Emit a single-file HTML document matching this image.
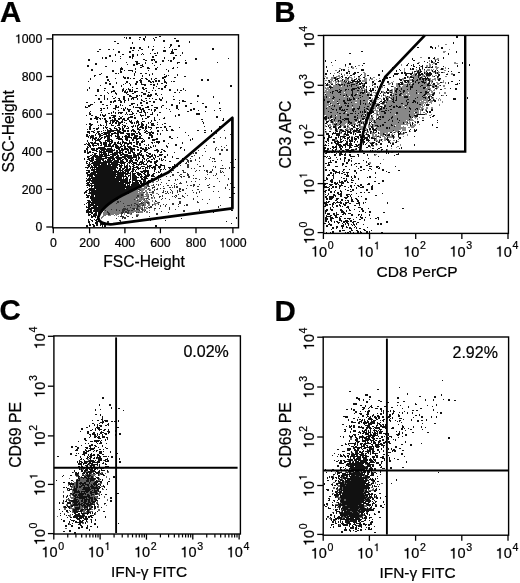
<!DOCTYPE html>
<html><head><meta charset="utf-8"><style>html,body{margin:0;padding:0;background:#fff;overflow:hidden}svg{display:block;filter:blur(0.35px)}text{stroke:#000;stroke-width:0.22px}</style></head>
<body><svg width="520" height="583" viewBox="0 0 520 583" font-family="'Liberation Sans',sans-serif" fill="#000" shape-rendering="auto">
<path d="M445 44.5h2M438 45.5h1M438 46.5h1M449 49.5h1M443 51.5h3M443 52.5h2M420 57.5h2M437 58.5h2M434 59.5h5M429 60.5h1M429 61.5h1M418 62.5h2m13 0h2m19 0h2M429 63.5h1m3 0h2m19 0h4M401 64.5h1m27 0h2m1 0h1M332 65.5h1m25 0h2m41 0h1m24 0h2m1 0h2M345 66.5h1m6 0h1m67 0h1m5 0h2m1 0h2m4 0h2M348 67.5h1m3 0h2m73 0h1m2 0h1m4 0h4m6 0h1M339 68.5h2m11 0h2m2 0h1m47 0h1m31 0h2m5 0h1m1 0h1M342 69.5h1m5 0h1m55 0h1m6 0h1m4 0h1m5 0h1m4 0h3m1 0h1m1 0h1m2 0h1m3 0h1m2 0h1M335 70.5h2m11 0h1m55 0h1m11 0h2m1 0h1m4 0h1m1 0h4m1 0h1m12 0h2M338 71.5h1m65 0h1m7 0h1m3 0h1m2 0h1m4 0h1m8 0h1m4 0h1M338 72.5h1m10 0h1m13 0h2m49 0h1m10 0h2m6 0h2m1 0h1m1 0h2m3 0h2M334 73.5h1m4 0h1m1 0h1m22 0h2m48 0h2m1 0h1m7 0h1m10 0h1m1 0h1m8 0h1m3 0h2M344 74.5h1m7 0h1m11 0h2m47 0h2m8 0h1m1 0h1m25 0h2M338 75.5h2m2 0h1m1 0h1m2 0h1m16 0h2m45 0h4m1 0h2m4 0h3m7 0h1m2 0h2M325 76.5h1m7 0h1m2 0h4m9 0h1m4 0h1m9 0h2m42 0h1m3 0h6m1 0h1m1 0h3m1 0h5m2 0h2m11 0h2M326 77.5h2m3 0h3m2 0h1m2 0h2m8 0h3m2 0h1m3 0h2m13 0h2m33 0h2m4 0h4m1 0h1m2 0h1m15 0h1M326 78.5h2m3 0h3m2 0h1m2 0h1m1 0h1m3 0h2m4 0h2m5 0h3m3 0h3m4 0h2m6 0h1m19 0h1m2 0h2m5 0h1m4 0h5m2 0h1m7 0h2m3 0h2m1 0h2M330 79.5h3m10 0h1m1 0h4m2 0h2m3 0h1m7 0h3m2 0h1m1 0h2m3 0h1m25 0h2m5 0h3m1 0h4m1 0h1m2 0h1m2 0h1m2 0h1m2 0h1m1 0h4m1 0h1m2 0h1M325 80.5h2m4 0h2m1 0h1m2 0h1m2 0h2m3 0h4m13 0h5m2 0h1m4 0h1m28 0h1m5 0h3m2 0h2m2 0h5m1 0h1m1 0h2m2 0h3m2 0h1m7 0h1M328 81.5h1m1 0h2m1 0h1m1 0h3m1 0h5m1 0h1m3 0h2m11 0h5m26 0h1m8 0h1m6 0h1m4 0h1m1 0h5m3 0h3m3 0h2m11 0h1M328 82.5h1m1 0h2m3 0h2m1 0h1m2 0h4m1 0h2m1 0h1m3 0h1m1 0h2m2 0h1m31 0h2m11 0h1m2 0h1m1 0h6m1 0h2m2 0h2m4 0h1m1 0h1m2 0h2m3 0h2m4 0h2m1 0h1M330 83.5h3m2 0h1m1 0h2m2 0h6m3 0h6m7 0h1m8 0h1m15 0h3m5 0h2m5 0h1m3 0h4m1 0h1m1 0h4m1 0h5m1 0h3m3 0h1m5 0h3m5 0h1M328 84.5h2m5 0h1m1 0h1m2 0h1m2 0h1m1 0h6m4 0h4m3 0h2m8 0h2m14 0h2m6 0h2m5 0h4m1 0h1m1 0h2m2 0h13m2 0h2m1 0h1m4 0h2M325 85.5h1m2 0h3m2 0h6m2 0h3m1 0h2m1 0h1m1 0h1m1 0h4m1 0h2m37 0h3m4 0h4m1 0h4m1 0h8m2 0h4m4 0h4m4 0h1m3 0h2M331 86.5h1m1 0h8m1 0h5m1 0h3m1 0h8m1 0h2m6 0h1m4 0h2m3 0h2m1 0h1m10 0h1m2 0h3m1 0h1m1 0h4m2 0h2m3 0h7m1 0h9m4 0h1m2 0h2m4 0h2M325 87.5h1m1 0h2m4 0h24m2 0h1m1 0h2m11 0h2m4 0h1m1 0h1m1 0h1m9 0h2m1 0h13m3 0h10m4 0h3m2 0h1m1 0h1m1 0h3M325 88.5h4m2 0h21m5 0h1m4 0h3m1 0h1m11 0h1m15 0h2m2 0h3m1 0h8m1 0h12m2 0h6m6 0h1m6 0h2M326 89.5h13m1 0h5m2 0h1m1 0h2m4 0h8m1 0h2m25 0h2m1 0h2m2 0h3m1 0h5m1 0h2m1 0h17m2 0h1m3 0h1m1 0h1M325 90.5h2m1 0h7m3 0h2m2 0h3m1 0h5m2 0h4m2 0h3m1 0h1m1 0h1m23 0h1m2 0h1m1 0h1m2 0h2m1 0h3m2 0h11m1 0h11m1 0h3m1 0h2M325 91.5h7m2 0h3m1 0h1m2 0h11m1 0h10m2 0h1m1 0h1m14 0h2m5 0h4m1 0h1m2 0h3m1 0h2m2 0h20m2 0h3m1 0h2M324 92.5h6m1 0h1m1 0h5m3 0h3m1 0h7m1 0h7m5 0h1m1 0h3m1 0h1m1 0h4m5 0h2m1 0h1m3 0h1m2 0h1m1 0h2m1 0h6m1 0h4m1 0h7m1 0h3m2 0h3m6 0h3m5 0h1m4 0h2M326 93.5h6m1 0h19m1 0h4m1 0h2m1 0h1m2 0h2m1 0h3m1 0h1m3 0h2m1 0h1m4 0h3m5 0h9m2 0h14m1 0h1m1 0h6m2 0h3m2 0h1m6 0h1m4 0h2M326 94.5h14m1 0h5m1 0h4m2 0h2m2 0h10m2 0h1m8 0h1m14 0h2m2 0h2m2 0h5m1 0h17m2 0h6m2 0h1M325 95.5h18m2 0h1m1 0h4m2 0h1m2 0h3m2 0h6m2 0h1m2 0h1m1 0h2m1 0h1m3 0h1m2 0h2m6 0h1m1 0h5m2 0h1m1 0h6m1 0h13m2 0h1m1 0h1m1 0h2m11 0h2M324 96.5h2m1 0h6m1 0h10m1 0h2m1 0h1m1 0h2m1 0h9m1 0h6m6 0h1m5 0h1m3 0h2m1 0h2m1 0h5m1 0h7m4 0h14m1 0h4m3 0h1M324 97.5h2m1 0h2m1 0h3m2 0h18m1 0h6m1 0h8m14 0h1m1 0h1m1 0h2m1 0h3m1 0h2m1 0h7m4 0h9m1 0h5m3 0h2m3 0h1m1 0h1M324 98.5h8m2 0h13m1 0h1m1 0h3m2 0h3m1 0h10m3 0h1m4 0h1m1 0h2m7 0h1m1 0h1m1 0h1m1 0h2m1 0h18m1 0h9m1 0h3m2 0h3m2 0h1m2 0h1M325 99.5h14m1 0h7m1 0h1m3 0h1m2 0h1m1 0h12m2 0h2m1 0h1m2 0h2m2 0h1m6 0h1m2 0h1m2 0h2m1 0h10m2 0h19m6 0h1m3 0h1m1 0h1M325 100.5h8m1 0h9m2 0h2m4 0h9m1 0h2m2 0h3m1 0h1m2 0h2m7 0h1m4 0h1m1 0h5m1 0h1m2 0h9m1 0h6m2 0h7m1 0h5m2 0h3m5 0h1m1 0h1M324 101.5h3m3 0h7m1 0h5m2 0h15m1 0h7m4 0h1m3 0h1m8 0h7m2 0h12m1 0h6m3 0h4m1 0h3m2 0h3m1 0h3m9 0h1M324 102.5h3m2 0h8m1 0h6m2 0h5m1 0h3m2 0h3m1 0h7m3 0h1m13 0h1m1 0h6m2 0h12m2 0h3m2 0h1m1 0h1m1 0h10m1 0h3m10 0h1M324 103.5h5m2 0h6m2 0h5m3 0h1m1 0h11m1 0h2m1 0h1m1 0h3m1 0h3m3 0h3m1 0h1m3 0h1m1 0h15m2 0h4m1 0h9m1 0h6m1 0h1m1 0h1m3 0h1M324 104.5h7m1 0h7m1 0h20m1 0h4m1 0h4m1 0h2m1 0h3m5 0h25m1 0h11m2 0h2m1 0h1m4 0h1m9 0h1M324 105.5h5m1 0h2m1 0h1m1 0h10m1 0h1m2 0h3m1 0h23m3 0h1m6 0h5m1 0h4m1 0h6m1 0h1m2 0h16m1 0h1m14 0h1M324 106.5h3m1 0h1m1 0h4m1 0h6m1 0h5m2 0h10m1 0h7m2 0h1m2 0h1m1 0h2m2 0h2m2 0h1m3 0h3m2 0h2m2 0h1m2 0h1m2 0h20m1 0h2M324 107.5h15m3 0h10m1 0h6m1 0h4m1 0h11m1 0h3m2 0h1m2 0h8m2 0h3m3 0h4m1 0h3m1 0h13m3 0h2m3 0h2M324 108.5h2m1 0h4m1 0h7m2 0h12m2 0h2m3 0h6m2 0h3m3 0h2m1 0h3m2 0h1m2 0h1m1 0h18m1 0h3m2 0h5m2 0h2m1 0h3m2 0h2m3 0h2M324 109.5h8m2 0h2m1 0h2m2 0h1m1 0h1m1 0h1m2 0h4m3 0h3m1 0h5m1 0h2m2 0h1m2 0h2m1 0h1m6 0h8m2 0h18m1 0h4m1 0h1m1 0h4m1 0h1m1 0h2M324 110.5h12m1 0h4m4 0h7m2 0h10m1 0h2m1 0h3m2 0h5m2 0h5m2 0h1m1 0h30m1 0h2m3 0h1M324 111.5h4m1 0h16m1 0h7m1 0h1m1 0h4m1 0h1m1 0h1m2 0h2m1 0h2m5 0h5m4 0h24m1 0h9m1 0h1M324 112.5h6m2 0h5m1 0h6m1 0h1m1 0h13m1 0h1m1 0h1m2 0h1m9 0h2m1 0h5m2 0h4m1 0h5m2 0h16m3 0h2m1 0h1m2 0h2M324 113.5h15m2 0h2m2 0h5m3 0h2m1 0h2m1 0h6m1 0h1m7 0h4m1 0h5m2 0h10m2 0h21m1 0h1m4 0h2M324 114.5h23m2 0h13m1 0h2m1 0h1m1 0h1m4 0h1m2 0h1m1 0h17m1 0h13m1 0h5m1 0h1m8 0h2m4 0h1M326 115.5h5m1 0h3m2 0h10m2 0h8m1 0h3m1 0h2m2 0h1m1 0h2m2 0h1m3 0h3m1 0h29m1 0h4m15 0h2M327 116.5h3m2 0h8m1 0h13m2 0h5m1 0h1m2 0h5m2 0h1m3 0h1m1 0h1m2 0h1m2 0h8m1 0h16m2 0h4M327 117.5h1m1 0h1m2 0h3m1 0h4m1 0h13m2 0h1m1 0h8m2 0h2m1 0h3m2 0h1m2 0h1m1 0h1m2 0h7m2 0h17m1 0h1m2 0h3m2 0h1m2 0h2M327 118.5h1m1 0h2m2 0h2m1 0h4m1 0h3m5 0h8m1 0h4m3 0h7m4 0h1m2 0h12m1 0h5m1 0h14m3 0h1m1 0h1m4 0h2M324 119.5h1m4 0h1m3 0h1m1 0h7m2 0h1m4 0h5m3 0h2m1 0h2m4 0h2m1 0h5m3 0h2m2 0h8m1 0h7m1 0h11m1 0h3m4 0h1M325 120.5h2m1 0h2m2 0h2m1 0h3m3 0h3m1 0h3m1 0h6m2 0h2m2 0h1m7 0h5m1 0h13m1 0h3m1 0h6m1 0h6m1 0h7M330 121.5h1m2 0h5m1 0h1m2 0h6m2 0h7m4 0h4m4 0h1m3 0h1m1 0h17m1 0h15m1 0h1m4 0h2M330 122.5h1m2 0h1m1 0h1m1 0h3m2 0h6m4 0h3m2 0h1m2 0h1m1 0h1m3 0h2m4 0h2m2 0h8m2 0h12m1 0h4m1 0h3m2 0h2M332 123.5h4m1 0h3m1 0h5m1 0h1m1 0h1m2 0h4m1 0h1m1 0h2m1 0h1m2 0h3m3 0h1m2 0h29m1 0h1m1 0h5m2 0h1m3 0h1M327 124.5h1m1 0h2m1 0h2m3 0h2m1 0h5m2 0h1m2 0h4m1 0h1m2 0h1m1 0h1m2 0h3m2 0h1m2 0h1m1 0h9m2 0h7m1 0h16m6 0h2m3 0h1M325 125.5h1m3 0h2m2 0h2m1 0h3m2 0h5m1 0h2m9 0h1m1 0h1m4 0h1m2 0h3m2 0h2m3 0h2m1 0h1m2 0h7m2 0h2m1 0h5m6 0h1m3 0h5M325 126.5h1m4 0h2m4 0h1m4 0h1m1 0h1m4 0h1m3 0h1m6 0h4m2 0h1m2 0h3m2 0h4m2 0h1m1 0h13m1 0h6m2 0h1m6 0h5M336 127.5h1m6 0h1m3 0h3m5 0h1m3 0h6m3 0h2m3 0h1m2 0h10m2 0h1m1 0h16m2 0h2m1 0h3M329 128.5h3m14 0h2m1 0h2m9 0h3m1 0h1m1 0h1m8 0h1m1 0h9m2 0h1m1 0h16M330 129.5h2m5 0h1m1 0h1m2 0h1m3 0h4m1 0h1m2 0h1m6 0h4m1 0h1m9 0h25m1 0h4M337 130.5h1m1 0h1m5 0h1m2 0h1m2 0h1m14 0h1m2 0h2m7 0h15m1 0h5m3 0h4M326 131.5h1m8 0h1m4 0h2m10 0h1m4 0h1m10 0h1m11 0h13m2 0h3m3 0h1m8 0h1M325 132.5h2m13 0h1m13 0h1m1 0h1m8 0h4m2 0h2m1 0h1m1 0h1m3 0h8m5 0h1m1 0h1m1 0h1m6 0h1M340 133.5h2m29 0h4m4 0h4m1 0h1m1 0h2m1 0h1m2 0h1m8 0h2m1 0h1M343 134.5h1m21 0h1m6 0h2m1 0h2m3 0h3m3 0h2m3 0h2m1 0h1m5 0h4m3 0h1M343 135.5h2m22 0h1m4 0h2m1 0h2m1 0h1m1 0h4m2 0h1m4 0h1m15 0h1M351 136.5h2m14 0h1m4 0h5m2 0h2m1 0h3m1 0h6m2 0h1m8 0h1M342 137.5h1m18 0h1m11 0h2m1 0h1m2 0h1m4 0h2m2 0h5m1 0h1m3 0h1M342 138.5h1m26 0h1m6 0h1m7 0h3M335 139.5h2m38 0h2m2 0h2m1 0h1m1 0h2m12 0h1M335 140.5h2m10 0h1m27 0h3m2 0h1m3 0h2m3 0h2m2 0h2M362 141.5h1m14 0h2m3 0h1m14 0h2M332 142.5h1m24 0h1m4 0h1m4 0h1m1 0h3m18 0h1m1 0h2M332 143.5h1m42 0h1M375 144.5h1m1 0h1m22 0h1M376 145.5h1m23 0h1M370 146.5h1m1 0h2m23 0h2M370 147.5h1m25 0h1M355 148.5h1m35 0h1M354 149.5h1m32 0h1M354 150.5h1m20 0h1m11 0h1M375 151.5h1m12 0h1m2 0h2M377 152.5h3m11 0h2M375 154.5h2M374 155.5h2M383 159.5h1M369 162.5h2M369 163.5h2" stroke="#888" stroke-width="1" fill="none" shape-rendering="crispEdges"/>
<path d="M156 179.5h1M152 180.5h1M152 181.5h2m2 0h2M152 182.5h2M142 185.5h1m3 0h1m4 0h2M143 186.5h5M138 187.5h1m2 0h1m2 0h2M139 188.5h8m2 0h1M135 189.5h3m2 0h5m2 0h4M133 190.5h5m1 0h1m1 0h3m1 0h2m3 0h1M132 191.5h8m1 0h2m2 0h2M129 192.5h9m1 0h4m3 0h2m2 0h2M126 193.5h1m2 0h15m2 0h2m4 0h2m2 0h2M126 194.5h15m2 0h1m1 0h4M122 195.5h15m2 0h2m2 0h1m2 0h3m4 0h1M122 196.5h15m2 0h9m5 0h1M120 197.5h16m1 0h4m1 0h2m3 0h2m3 0h1M118 198.5h20m1 0h7m2 0h1m2 0h2m1 0h1M118 199.5h16m1 0h1m1 0h7m2 0h1m1 0h1M115 200.5h22m1 0h4m1 0h5m4 0h1M113 201.5h4m2 0h1m1 0h18m3 0h1m1 0h5m3 0h1M110 202.5h1m1 0h5m2 0h20m3 0h1m1 0h2m3 0h1m4 0h1m2 0h1M110 203.5h6m1 0h6m1 0h10m2 0h4m3 0h3m3 0h1m4 0h5M109 204.5h22m1 0h4m2 0h1m1 0h3m1 0h2m2 0h2m3 0h3M108 205.5h19m3 0h1m1 0h2m1 0h2m2 0h3m2 0h2m2 0h2m5 0h1M105 206.5h19m1 0h12m3 0h1m1 0h1m1 0h1m2 0h1M105 207.5h25m1 0h6m1 0h5m2 0h2M104 208.5h19m3 0h1m1 0h4m3 0h1m2 0h4m2 0h1m1 0h2m1 0h1M104 209.5h7m1 0h4m1 0h5m6 0h5m6 0h1m3 0h3m8 0h1M103 210.5h2m1 0h10m1 0h2m1 0h2m3 0h2m3 0h1m2 0h6m4 0h2m4 0h1m4 0h1M104 211.5h3m1 0h14m2 0h1m2 0h1m1 0h14m3 0h2M103 212.5h4m2 0h12m3 0h1m4 0h5m3 0h1m1 0h4m3 0h2M103 213.5h5m2 0h11m3 0h1m4 0h2M103 214.5h5m2 0h4m1 0h4m5 0h1m5 0h2m4 0h3M103 215.5h3m2 0h3m3 0h1m1 0h1m21 0h1M102 216.5h2m14 0h1M101 217.5h2M101 218.5h1" stroke="#7a7a7a" stroke-width="1" fill="none" shape-rendering="crispEdges"/>
<path d="M350 438.5h2M350 439.5h2M352 452.5h1M351 453.5h1M97 458.5h1M87 459.5h2M88 460.5h1m14 0h1m244 0h1M352 461.5h1M87 462.5h1M89 464.5h1m275 0h2M89 465.5h1m259 0h1M345 466.5h1m19 0h1M81 467.5h2m12 0h2m1 0h1M82 468.5h1m6 0h1m4 0h1m2 0h1M80 469.5h1m1 0h2m13 0h1m248 0h2m2 0h1M346 470.5h2M86 471.5h2m20 0h1m229 0h1m2 0h1m3 0h2m12 0h2M73 472.5h1m11 0h1m6 0h2m7 0h2m4 0h2m226 0h1m9 0h1m2 0h1m2 0h2m7 0h1m12 0h1M91 473.5h1m7 0h1m1 0h1m3 0h1m229 0h1m11 0h1M78 474.5h1m3 0h2m1 0h2m1 0h1m1 0h6m3 0h2M75 475.5h1m8 0h2m5 0h4m4 0h1m233 0h1m21 0h1m8 0h1M76 476.5h2m3 0h1m4 0h1m3 0h1m2 0h1m1 0h1m10 0h1m226 0h1m10 0h1m14 0h1m3 0h2M79 477.5h2m2 0h1m3 0h1m1 0h2m2 0h1m12 0h1m235 0h1m4 0h1M69 478.5h1m10 0h3m1 0h2m13 0h1m9 0h1m231 0h2m24 0h2M76 479.5h1m1 0h1m1 0h7m2 0h1m5 0h1m3 0h1m9 0h1m232 0h1m1 0h1m22 0h1M80 480.5h6m3 0h1m4 0h1m2 0h3m250 0h1M73 481.5h1m4 0h8m3 0h1m1 0h4m245 0h1m3 0h1m23 0h1m3 0h1M71 482.5h1m2 0h2m2 0h2m2 0h2m2 0h3m1 0h4m239 0h2m3 0h1m5 0h1m27 0h1m2 0h1M74 483.5h2m2 0h1m7 0h3m1 0h3m5 0h4m230 0h1m11 0h1m1 0h1m28 0h1m5 0h2M68 484.5h1m5 0h2m2 0h2m1 0h1m2 0h1m4 0h2m1 0h1m4 0h1m1 0h1m270 0h1M68 485.5h1m3 0h4m2 0h3m4 0h2m2 0h2m2 0h1m1 0h1m241 0h3m5 0h1m24 0h1M72 486.5h2m1 0h1m2 0h1m3 0h2m1 0h3m1 0h1m4 0h2m1 0h1m3 0h2m235 0h2M71 487.5h3m1 0h1m2 0h1m2 0h2m7 0h1m7 0h1m234 0h2m7 0h1m28 0h2M69 488.5h1m1 0h1m1 0h1m3 0h6m7 0h1m242 0h2m4 0h1m2 0h1m30 0h1M72 489.5h1m4 0h5m9 0h3m1 0h2m5 0h2m232 0h3m3 0h1m21 0h2m6 0h2M67 490.5h1m4 0h1m4 0h1m1 0h6m5 0h2m1 0h1m244 0h1m1 0h1m23 0h1m3 0h6M63 491.5h1m8 0h2m6 0h1m8 0h1m2 0h2m3 0h1m1 0h1m264 0h1m3 0h1M63 492.5h1m8 0h2m6 0h1m1 0h2m1 0h1m2 0h2m7 0h1m1 0h1m237 0h1m4 0h1m20 0h1M72 493.5h1m2 0h4m7 0h4m2 0h3m3 0h2m232 0h2m7 0h1M70 494.5h2m2 0h1m2 0h1m6 0h1m1 0h1m2 0h2m3 0h1m2 0h3m264 0h1M69 495.5h2m1 0h1m4 0h1m5 0h4m3 0h1m1 0h3M66 496.5h1m3 0h1m2 0h1m2 0h1m1 0h1m11 0h7m7 0h1m233 0h1m26 0h1m9 0h1M63 497.5h1m6 0h5m12 0h1m5 0h1m1 0h3m6 0h1m231 0h4m27 0h1m7 0h1M71 498.5h3m2 0h3m6 0h1m1 0h2m4 0h1m2 0h3m240 0h2m25 0h1m2 0h1M66 499.5h4m3 0h1m4 0h4m1 0h1m6 0h1m2 0h1m13 0h1m231 0h2m3 0h2m18 0h1M68 500.5h1m8 0h1m1 0h2m2 0h1m3 0h1m2 0h1m2 0h2m12 0h1m236 0h2m19 0h1M69 501.5h2m8 0h2m2 0h1m3 0h1m2 0h1m6 0h1M62 502.5h2m8 0h1m5 0h1m1 0h3m3 0h2m3 0h1m4 0h2m238 0h1m3 0h1M72 503.5h2m3 0h1m2 0h1m2 0h1m5 0h1m3 0h2m1 0h1m242 0h1m1 0h1m19 0h1M66 504.5h2m2 0h3m9 0h1m2 0h1m12 0h1m5 0h1m230 0h3m38 0h1M66 505.5h1m3 0h1m7 0h1m1 0h1m5 0h1m4 0h1m6 0h1m7 0h1m220 0h1m10 0h1m6 0h2m11 0h1m5 0h3M63 506.5h1m6 0h1m3 0h5m1 0h2m1 0h1m4 0h1m1 0h1m7 0h1m243 0h1m21 0h3m2 0h1M63 507.5h1m6 0h2m2 0h1m5 0h4m5 0h2m6 0h2m238 0h2m1 0h1m23 0h1M64 508.5h2m4 0h5m5 0h3m2 0h2m4 0h1m256 0h2m9 0h1m6 0h1m1 0h1m2 0h1M64 509.5h2m6 0h1m6 0h2m3 0h1m6 0h2m1 0h1m3 0h2m233 0h1m8 0h1m15 0h1M69 510.5h1m2 0h1m4 0h2m4 0h3m3 0h1m8 0h2m241 0h1m4 0h1m13 0h1M72 511.5h1m9 0h3m1 0h1m2 0h4m248 0h1m8 0h2m5 0h1M67 512.5h2m3 0h2m9 0h4m245 0h1m10 0h1m8 0h1m5 0h1m7 0h1M64 513.5h1m30 0h1m243 0h1m19 0h1M70 514.5h1m13 0h1m10 0h1m263 0h2m2 0h1M69 515.5h2m10 0h1m266 0h1m14 0h1M57 516.5h1m11 0h2m13 0h1m258 0h1m2 0h1m15 0h1M327 517.5h2m13 0h3m14 0h3M84 518.5h1m244 0h2m11 0h1m20 0h1M90 519.5h1m239 0h1m7 0h1M335 520.5h1m13 0h1M87 521.5h1M83 522.5h1m3 0h1m271 0h1M69 523.5h1m12 0h2m262 0h1M69 524.5h1m269 0h2M339 525.5h1m17 0h1M65 528.5h2" stroke="#606060" stroke-width="1" fill="none" shape-rendering="crispEdges"/>
<path d="M224 130.5h1M216 132.5h1M216 133.5h1M230 134.5h1M220 137.5h1m4 0h1M213 138.5h2m10 0h1M207 139.5h1M213 141.5h2M213 142.5h2M206 145.5h1m19 0h1M221 146.5h1M216 147.5h1m7 0h1M204 148.5h1m10 0h1M215 149.5h1m2 0h1m2 0h2m3 0h2M198 150.5h1m16 0h1m5 0h2m3 0h2M205 151.5h1M195 152.5h2M193 153.5h1m1 0h2m22 0h2M219 154.5h2M194 155.5h1m7 0h1M191 156.5h2M199 157.5h1m10 0h1M190 158.5h1m8 0h1m12 0h3M186 159.5h2m7 0h1m13 0h1m4 0h1M187 160.5h2m1 0h2m3 0h1m25 0h1M183 161.5h1m3 0h2m1 0h2m7 0h1m12 0h1m1 0h2M186 162.5h1m1 0h1m41 0h2M185 163.5h2m44 0h1M187 164.5h2m8 0h1M177 165.5h1m2 0h1m6 0h2m14 0h1m18 0h1M177 166.5h1m9 0h2m10 0h2m2 0h1m9 0h1m1 0h1M187 167.5h2m26 0h1m13 0h1M191 168.5h1m2 0h1m25 0h4m1 0h1m3 0h1M212 169.5h1M172 170.5h2m8 0h2m12 0h1m2 0h1m4 0h1m1 0h2m4 0h1m7 0h1M183 171.5h1m11 0h1m10 0h2m2 0h2m8 0h1m1 0h1M171 172.5h1m5 0h2m4 0h3m21 0h1m1 0h3m8 0h2m1 0h1M187 173.5h1m28 0h1M164 174.5h1m7 0h2m6 0h2m5 0h2m18 0h1m8 0h1M172 175.5h2m5 0h1m7 0h2m4 0h1m19 0h1m1 0h1m8 0h1M166 176.5h1m3 0h1m9 0h2m1 0h2m3 0h2M181 177.5h1m6 0h2m15 0h1M193 178.5h1m1 0h2m9 0h1m2 0h1m7 0h1m10 0h1M158 179.5h1m1 0h1m14 0h1m1 0h1m21 0h1m5 0h1m22 0h1M154 180.5h1m3 0h1m9 0h2m5 0h1M186 181.5h1m4 0h1m3 0h1m23 0h1M161 182.5h1m18 0h1m5 0h1M166 183.5h1m7 0h1m4 0h3m48 0h2M147 184.5h2m4 0h1m2 0h1m1 0h1m1 0h1m15 0h1m16 0h2m4 0h1m9 0h1m17 0h1M147 185.5h2m4 0h1m4 0h1m8 0h2m2 0h1m2 0h1m12 0h1m2 0h2m1 0h2m12 0h2m18 0h1M148 186.5h2m4 0h1m8 0h1m10 0h1m1 0h2m15 0h1m3 0h2m14 0h2M146 187.5h1m5 0h3m14 0h2m1 0h1m1 0h1m1 0h2m30 0h2m15 0h1M148 188.5h1m3 0h1m4 0h1m2 0h1m2 0h2m14 0h2m5 0h1m38 0h1M138 189.5h2m14 0h1m1 0h2m12 0h1m8 0h2m1 0h2m13 0h2m30 0h1M140 190.5h1m8 0h1m4 0h1m8 0h1m7 0h1m5 0h1m1 0h1m2 0h2m8 0h1m8 0h1M152 191.5h2m9 0h1m1 0h1m1 0h1m4 0h1m4 0h1m1 0h2m18 0h1m13 0h1m4 0h1M143 192.5h2m4 0h1m2 0h2m8 0h2m3 0h1m2 0h1m1 0h1m4 0h1m15 0h1m2 0h1m2 0h1M165 193.5h2m1 0h1m3 0h1m12 0h1m10 0h1M141 194.5h2m7 0h2m6 0h1m19 0h1M137 195.5h2m2 0h2m8 0h1m10 0h1m12 0h2m5 0h1m4 0h1M137 196.5h2m9 0h1m10 0h2m1 0h1m9 0h1m1 0h1m1 0h1m5 0h2m13 0h1M136 197.5h1m4 0h1m9 0h1m2 0h1m4 0h1m15 0h1m8 0h1m34 0h1m9 0h2M146 198.5h2m14 0h1m2 0h1m12 0h3m12 0h1M134 199.5h1m9 0h1m4 0h1m11 0h1m7 0h1m23 0h1m8 0h1m6 0h1M137 200.5h1m17 0h1M117 201.5h2m1 0h1m18 0h2m14 0h2m22 0h2m16 0h1M117 202.5h2m22 0h1m1 0h1m2 0h3m9 0h2m19 0h2m16 0h2M116 203.5h1m6 0h1m10 0h2m4 0h3m4 0h2m23 0h2m5 0h2m26 0h1M131 204.5h1m4 0h2m1 0h1m3 0h1m8 0h1m5 0h1m4 0h1m2 0h1m5 0h2m4 0h1m7 0h2M127 205.5h3m1 0h1m2 0h1m2 0h2m3 0h2m8 0h1m7 0h1m4 0h1m18 0h1m1 0h2m32 0h1M124 206.5h1m12 0h3m10 0h2m8 0h1m4 0h1m12 0h1m39 0h1M104 207.5h1m25 0h1m6 0h1m6 0h1m3 0h4m17 0h1m48 0h1M123 208.5h3m1 0h1m4 0h3m1 0h2m4 0h1m11 0h2m3 0h1m9 0h1M111 209.5h1m4 0h1m5 0h6m5 0h2m1 0h3m2 0h2m26 0h1m5 0h1m23 0h1M105 210.5h1m10 0h1m2 0h1m2 0h3m2 0h3m1 0h2m6 0h1m2 0h1m2 0h1m37 0h2m14 0h1M107 211.5h1m14 0h2m1 0h2m1 0h1m15 0h1m16 0h1m21 0h2M107 212.5h2m12 0h3m1 0h4m7 0h1m1 0h1m10 0h1m18 0h1M108 213.5h2m11 0h2m4 0h2m2 0h1m24 0h2M108 214.5h2m11 0h1m34 0h2M121 215.5h1m4 0h1m9 0h2M120 216.5h4m3 0h2m7 0h2m11 0h1m14 0h1M122 217.5h4m6 0h1M116 218.5h1m5 0h1m1 0h2M119 220.5h2M107 221.5h2m11 0h1M107 222.5h2" stroke="#333" stroke-width="1" fill="none" shape-rendering="crispEdges"/>
<path d="M145 36.5h1m13 0h2m295 0h2M124 37.5h1m1 0h1m2 0h2m8 0h2m4 0h1m9 0h2m299 0h2M126 38.5h1m2 0h2m12 0h2m8 0h1m20 0h2M139 39.5h1m3 0h2m9 0h1M144 40.5h1m9 0h1m8 0h2m11 0h3M114 41.5h2m47 0h2m11 0h3m10 0h1M132 42.5h1m56 0h1m263 0h1M117 43.5h2m13 0h1m320 0h1M170 44.5h2M170 45.5h2m6 0h2m234 0h1M148 46.5h1m4 0h1m16 0h1m7 0h2m250 0h2M130 47.5h2m1 0h2m4 0h2m7 0h1m15 0h1m4 0h1m247 0h2m11 0h3m2 0h1m5 0h2M130 48.5h2m1 0h2m4 0h2m71 0h2m218 0h1m2 0h1m5 0h2M99 49.5h2m7 0h2m3 0h1m27 0h2m9 0h2m18 0h1m1 0h3m35 0h2M132 50.5h2m4 0h1m13 0h1m10 0h3m6 0h1M97 51.5h2m19 0h2m9 0h2m32 0h3m5 0h2m188 0h2m93 0h1M118 52.5h2m9 0h2m26 0h1m13 0h3m8 0h1m273 0h1M142 53.5h1m7 0h1m3 0h2m1 0h1m12 0h4m8 0h1m166 0h2m97 0h1M115 54.5h1m6 0h2m8 0h2m3 0h1m3 0h1m1 0h1m304 0h1M109 55.5h2m4 0h1m16 0h2m3 0h1m17 0h2m18 0h2m3 0h1M109 56.5h2m9 0h1m8 0h2m1 0h2m18 0h2M102 57.5h1m2 0h2m22 0h2m1 0h1m19 0h2m10 0h1m8 0h2m253 0h2m4 0h1m8 0h1M102 58.5h1m2 0h2m13 0h1m11 0h1m31 0h1m8 0h2m20 0h2m31 0h1m183 0h1m15 0h2m3 0h2m8 0h1M88 59.5h2m53 0h2m6 0h4m18 0h1m21 0h2m215 0h1M88 60.5h2m22 0h1m32 0h2m4 0h2m1 0h1m7 0h2m4 0h1m1 0h2m13 0h1m139 0h1m9 0h1m77 0h2m16 0h1m3 0h1m2 0h1M112 61.5h1m2 0h1m19 0h3m17 0h2m5 0h2m6 0h2m153 0h1m98 0h1m6 0h2m2 0h1M126 62.5h1m9 0h2m7 0h1m9 0h2m20 0h3m5 0h2m30 0h1m113 0h1m95 0h1m3 0h2m4 0h2m23 0h1M95 63.5h2m39 0h4m5 0h1m6 0h1m24 0h1m7 0h2m162 0h2m12 0h2m43 0h1m8 0h2m16 0h2m25 0h1M95 64.5h2m30 0h1m5 0h2m1 0h2m4 0h1m17 0h1m184 0h1m3 0h2m56 0h1m5 0h1m21 0h2m32 0h1M87 65.5h2m44 0h2m5 0h3m11 0h1m190 0h1m16 0h1m43 0h2m3 0h1m1 0h1m5 0h1m2 0h1m34 0h1m11 0h1M87 66.5h2m16 0h2m35 0h2m182 0h1m24 0h1m3 0h1m57 0h2m6 0h2m9 0h1m10 0h1m13 0h1M121 67.5h1m18 0h2m5 0h2m8 0h1m15 0h1m3 0h1m148 0h1m24 0h1m40 0h2m22 0h1m2 0h1m2 0h1m2 0h2m1 0h2m1 0h2M120 68.5h3m12 0h1m11 0h3m5 0h2m15 0h2m218 0h2m16 0h1m1 0h2m5 0h1m2 0h1m18 0h2m5 0h1M91 69.5h2m27 0h3m12 0h1m19 0h2m9 0h1m174 0h1m1 0h2m16 0h3m35 0h1m10 0h1m1 0h2m5 0h2m3 0h1m16 0h2M91 70.5h2m19 0h2m6 0h1m3 0h1m3 0h5m15 0h1m19 0h1m158 0h1m11 0h1m1 0h1m1 0h2m16 0h3m18 0h1m13 0h1m3 0h1m17 0h1m1 0h1m11 0h1m2 0h1m1 0h1M112 71.5h2m6 0h2m10 0h1m2 0h1m32 0h1m158 0h1m11 0h1m8 0h2m32 0h1m13 0h1m17 0h2m1 0h2m1 0h2m4 0h1m5 0h1m1 0h2m12 0h1m2 0h1M120 72.5h2m13 0h1m201 0h1m8 0h2m6 0h2m1 0h2m42 0h2m1 0h2m6 0h1m4 0h4m3 0h1m2 0h1m1 0h2m4 0h1m1 0h1m3 0h2m15 0h2M101 73.5h1m13 0h2m1 0h1m15 0h1m5 0h2m3 0h2m5 0h1m172 0h2m3 0h1m15 0h2m1 0h1m3 0h3m38 0h5m2 0h2m1 0h9m3 0h1m1 0h2m1 0h2m1 0h1m1 0h6m3 0h1m1 0h1M99 74.5h2m33 0h1m14 0h1m2 0h1m11 0h1m12 0h1m147 0h2m14 0h1m11 0h2m6 0h1m16 0h2m14 0h4m7 0h2m3 0h2m3 0h2m1 0h5m3 0h6m6 0h2m6 0h2m5 0h2M94 75.5h2m38 0h1m7 0h1m6 0h1m16 0h1m1 0h1m8 0h1m155 0h1m16 0h2m8 0h1m6 0h2m9 0h2m13 0h1m11 0h2m8 0h1m2 0h3m5 0h5m7 0h2m13 0h2M94 76.5h1m11 0h2m15 0h1m18 0h1m21 0h3m17 0h2m155 0h2m15 0h2m33 0h1m13 0h1m2 0h2m6 0h1m5 0h1m9 0h1m2 0h2M106 77.5h2m15 0h3m1 0h2m33 0h4m8 0h2m158 0h2m6 0h1m2 0h2m1 0h1m14 0h2m5 0h1m15 0h2m1 0h2m13 0h2m1 0h1m2 0h4m4 0h1m1 0h2m3 0h1m1 0h1m9 0h1M90 78.5h1m24 0h1m8 0h2m1 0h2m1 0h1m2 0h2m6 0h2m2 0h2m4 0h1m3 0h2m5 0h2m160 0h1m9 0h2m1 0h2m8 0h2m7 0h1m13 0h1m15 0h2m16 0h2m7 0h1m5 0h2m1 0h7m10 0h2M90 79.5h1m16 0h2m31 0h1m5 0h2m3 0h1m2 0h1m9 0h1m36 0h2m4 0h2m126 0h3m4 0h1m11 0h2m2 0h2m22 0h1m16 0h3m10 0h1m4 0h1m1 0h2m1 0h2m1 0h2m1 0h2m8 0h2M107 80.5h2m30 0h3m6 0h2m5 0h2m1 0h2m4 0h1m36 0h2m4 0h2m119 0h2m5 0h1m2 0h1m3 0h1m1 0h1m6 0h4m2 0h1m1 0h2m18 0h2m1 0h1m17 0h2m2 0h5m3 0h2m2 0h2m5 0h1m1 0h1m2 0h2m8 0h2m19 0h1M88 81.5h1m20 0h1m16 0h2m8 0h2m2 0h2m6 0h3m1 0h2m1 0h2m1 0h2m4 0h2m5 0h1m1 0h2m154 0h1m8 0h1m5 0h1m1 0h1m1 0h1m3 0h9m11 0h2m4 0h3m1 0h2m3 0h2m15 0h2m1 0h2m3 0h2m1 0h1m5 0h3m5 0h1m2 0h1m18 0h2M105 82.5h2m9 0h1m9 0h2m8 0h2m2 0h2m8 0h2m1 0h1m10 0h3m162 0h1m15 0h1m2 0h1m1 0h3m4 0h2m2 0h1m3 0h2m5 0h2m13 0h2m11 0h3m2 0h2m1 0h1m6 0h1m2 0h2m2 0h4m3 0h1m10 0h2m6 0h1M105 83.5h2m2 0h2m5 0h1m8 0h1m3 0h1m5 0h2m4 0h1m15 0h1m3 0h2m3 0h1m158 0h1m1 0h1m19 0h3m6 0h2m1 0h4m1 0h3m7 0h2m16 0h1m5 0h2m1 0h2m10 0h1m4 0h1m5 0h1m3 0h2m3 0h2m13 0h1m8 0h1m1 0h1M109 84.5h2m12 0h1m6 0h1m4 0h2m4 0h5m4 0h2m1 0h2m2 0h1m168 0h2m3 0h2m3 0h1m1 0h2m1 0h2m1 0h1m6 0h4m4 0h2m3 0h1m9 0h2m4 0h1m11 0h1m5 0h5m4 0h1m1 0h1m2 0h2m13 0h2m4 0h2m20 0h3M100 85.5h1m20 0h1m8 0h1m13 0h2m7 0h2m10 0h2m63 0h2m94 0h2m11 0h2m3 0h1m2 0h1m1 0h1m1 0h1m4 0h1m5 0h3m7 0h1m10 0h2m14 0h1m7 0h1m4 0h1m8 0h2m4 0h4m4 0h2m3 0h1M112 86.5h2m7 0h1m34 0h1m7 0h2m64 0h2m97 0h2m16 0h1m3 0h1m8 0h1m2 0h2m1 0h1m10 0h1m13 0h2m6 0h1m6 0h2m2 0h3m7 0h1m11 0h2m1 0h2M89 87.5h1m22 0h2m18 0h1m9 0h2m9 0h1m10 0h2m163 0h4m24 0h2m1 0h1m2 0h1m2 0h1m10 0h1m1 0h1m30 0h3m10 0h3m7 0h1M89 88.5h1m14 0h2m17 0h1m4 0h1m7 0h2m4 0h2m1 0h2m6 0h1m4 0h2m1 0h2m20 0h1m146 0h1m21 0h5m1 0h2m1 0h1m8 0h1m1 0h2m5 0h1m7 0h1m8 0h2m3 0h1m8 0h1m12 0h2m10 0h2m13 0h1m4 0h2M87 89.5h1m9 0h2m23 0h2m2 0h1m1 0h3m1 0h1m10 0h2m16 0h2m6 0h2m6 0h1m5 0h1m155 0h1m5 0h2m1 0h1m2 0h4m11 0h1m3 0h1m1 0h2m13 0h2m7 0h2m3 0h1m5 0h1m2 0h1m17 0h2m10 0h2m13 0h2M87 90.5h1m9 0h2m5 0h1m8 0h2m7 0h2m1 0h1m3 0h2m1 0h1m13 0h1m5 0h1m2 0h1m13 0h2m6 0h1m2 0h2m3 0h1m149 0h3m2 0h2m3 0h1m5 0h2m4 0h2m3 0h1m1 0h1m1 0h1m2 0h5m1 0h1m11 0h2m1 0h2m3 0h2m2 0h1m3 0h2m11 0h1M97 91.5h2m12 0h4m7 0h1m1 0h2m1 0h1m1 0h4m1 0h4m8 0h1m185 0h2m3 0h1m1 0h2m11 0h1m11 0h1m1 0h1m3 0h2m9 0h1m4 0h1m8 0h2m3 0h1m2 0h2m20 0h2M107 92.5h1m3 0h1m3 0h1m8 0h4m6 0h2m5 0h2m5 0h2m24 0h2m3 0h1m150 0h1m1 0h1m5 0h3m11 0h1m7 0h5m1 0h1m14 0h1m2 0h1m1 0h3m1 0h2m4 0h1m6 0h1m12 0h1m3 0h2m3 0h4m5 0h1M108 93.5h1m6 0h2m9 0h1m5 0h2m9 0h3m9 0h2m175 0h1m19 0h1m7 0h1m1 0h2m16 0h1m6 0h2m11 0h2m14 0h1m8 0h2m6 0h2M116 94.5h1m10 0h2m14 0h3m2 0h1m1 0h2m3 0h2m4 0h1m163 0h1m14 0h1m5 0h1m4 0h2m2 0h2m10 0h2m1 0h2m4 0h1m6 0h1m6 0h2m3 0h2m2 0h2m23 0h2m6 0h2M95 95.5h2m3 0h2m2 0h1m24 0h2m5 0h2m1 0h1m1 0h1m5 0h5m5 0h1m39 0h2m144 0h2m1 0h1m4 0h2m1 0h2m3 0h2m6 0h2m1 0h2m4 0h1m2 0h1m3 0h1m6 0h2m1 0h1m5 0h2m22 0h2m7 0h2m7 0h1m4 0h1M104 96.5h1m7 0h1m10 0h2m4 0h3m4 0h2m3 0h1m5 0h4m22 0h1m23 0h2m14 0h1m112 0h1m6 0h1m13 0h1m4 0h1m9 0h1m13 0h2m9 0h1m8 0h1m7 0h4m14 0h1m5 0h2m1 0h1M104 97.5h1m10 0h1m7 0h2m7 0h5m25 0h1m50 0h1m112 0h1m6 0h2m18 0h1m6 0h1m8 0h2m5 0h3m7 0h1m2 0h1m3 0h1m2 0h1m7 0h4m9 0h1m5 0h3m2 0h2m2 0h1m34 0h1M98 98.5h2m4 0h1m2 0h1m5 0h2m3 0h2m3 0h2m3 0h1m2 0h3m3 0h1m7 0h2m2 0h1m2 0h1m6 0h1m2 0h1m169 0h2m13 0h1m1 0h1m3 0h2m3 0h1m10 0h2m5 0h1m6 0h2m1 0h2m3 0h1m1 0h1m2 0h1m18 0h1m9 0h1m3 0h1m23 0h3m11 0h1M98 99.5h2m4 0h1m2 0h1m11 0h1m3 0h2m3 0h1m2 0h1m1 0h1m3 0h1m3 0h1m13 0h2m2 0h3m11 0h2m149 0h1m14 0h1m7 0h1m1 0h3m1 0h2m20 0h1m7 0h2m1 0h2m4 0h2m2 0h1m10 0h2m20 0h2m2 0h1m19 0h3M114 100.5h2m2 0h3m3 0h2m2 0h1m12 0h2m3 0h1m13 0h2m17 0h1m2 0h2m140 0h1m18 0h2m2 0h4m9 0h1m2 0h2m5 0h2m12 0h2m1 0h1m5 0h1m1 0h2m9 0h1m6 0h2m13 0h2m3 0h3M100 101.5h2m8 0h2m1 0h3m4 0h2m2 0h1m18 0h2m4 0h2m2 0h2m11 0h1m15 0h4m11 0h1m129 0h3m7 0h1m5 0h2m15 0h1m9 0h2m3 0h1m4 0h2m1 0h2m7 0h2m12 0h1m6 0h3m18 0h2M86 102.5h2m6 0h1m5 0h2m8 0h2m1 0h1m6 0h2m2 0h1m15 0h2m4 0h2m5 0h2m11 0h1m12 0h1m39 0h1m107 0h2m15 0h2m5 0h1m8 0h1m8 0h1m2 0h4m3 0h1m2 0h3m1 0h1m6 0h2m12 0h2m3 0h2m1 0h1m1 0h1M131 103.5h4m5 0h2m4 0h2m31 0h1m10 0h2m10 0h2m15 0h1m110 0h1m6 0h2m5 0h3m1 0h1m11 0h1m2 0h1m1 0h1m3 0h1m3 0h3m5 0h3m17 0h2m4 0h1m9 0h1M90 104.5h3m9 0h2m6 0h1m9 0h1m10 0h2m4 0h1m33 0h2m187 0h1m4 0h1m4 0h1m6 0h3m27 0h1m11 0h2m5 0h3M88 105.5h3m15 0h2m7 0h2m3 0h1m1 0h1m6 0h2m6 0h1m3 0h2m8 0h2m9 0h2m7 0h2m3 0h2m7 0h2m145 0h1m1 0h1m10 0h1m1 0h2m3 0h1m23 0h3m5 0h2m5 0h1m4 0h1m8 0h2m19 0h3M85 106.5h1m2 0h2m25 0h2m1 0h1m14 0h1m13 0h2m12 0h1m14 0h2m7 0h2m18 0h2m122 0h1m4 0h1m6 0h1m5 0h2m10 0h1m7 0h2m7 0h1m3 0h2m2 0h2m3 0h2m2 0h2m1 0h2m1 0h2M85 107.5h3m19 0h1m7 0h4m6 0h1m7 0h1m1 0h6m4 0h4m5 0h4m3 0h1m14 0h2m27 0h2m132 0h3m17 0h1m4 0h1m16 0h1m1 0h2m8 0h2m3 0h3m8 0h1M100 108.5h2m1 0h2m2 0h1m5 0h3m5 0h1m1 0h1m1 0h1m1 0h1m11 0h2m1 0h2m12 0h2m8 0h1m9 0h2m15 0h2m24 0h2m105 0h1m4 0h1m7 0h2m12 0h2m2 0h3m6 0h2m4 0h2m6 0h2m1 0h2m1 0h1m18 0h1m3 0h2m5 0h2M101 109.5h1m13 0h1m7 0h2m2 0h4m9 0h4m4 0h2m1 0h1m2 0h2m13 0h1m8 0h1m11 0h2m1 0h2m137 0h2m2 0h1m2 0h2m1 0h1m1 0h1m1 0h2m4 0h3m3 0h1m5 0h1m2 0h2m1 0h2m7 0h3m8 0h2m18 0h1m4 0h1m1 0h1m4 0h1m8 0h2M100 110.5h2m16 0h1m4 0h2m3 0h2m7 0h2m2 0h1m1 0h2m6 0h1m2 0h2m34 0h2m6 0h1m15 0h1m5 0h1m115 0h1m4 0h4m7 0h2m10 0h1m7 0h1m6 0h1m5 0h2m1 0h1m33 0h1m3 0h1m4 0h2M90 111.5h1m22 0h1m14 0h2m1 0h1m5 0h2m2 0h1m1 0h2m9 0h1m15 0h1m16 0h2m16 0h1m122 0h1m16 0h1m7 0h1m1 0h1m4 0h1m1 0h1m1 0h2m5 0h3m7 0h4m24 0h1m16 0h2m1 0h2M89 112.5h1m11 0h1m9 0h1m1 0h1m1 0h1m2 0h5m3 0h1m5 0h1m6 0h3m2 0h2m1 0h1m4 0h1m6 0h2m169 0h2m5 0h1m6 0h1m15 0h1m1 0h1m1 0h2m1 0h2m1 0h4m10 0h2m4 0h1m5 0h2m17 0h2m10 0h1m1 0h2M89 113.5h2m17 0h2m1 0h1m3 0h1m2 0h1m1 0h2m4 0h1m5 0h2m2 0h1m8 0h1m6 0h1m43 0h4m139 0h2m2 0h2m5 0h3m2 0h1m2 0h1m8 0h2m1 0h2m12 0h2m10 0h2M89 114.5h2m9 0h1m1 0h1m2 0h1m19 0h1m1 0h1m1 0h4m7 0h1m4 0h1m4 0h3m4 0h1m20 0h2m16 0h4m147 0h2m13 0h1m2 0h1m1 0h1m9 0h1m31 0h1m7 0h8M86 115.5h1m4 0h2m7 0h1m1 0h4m5 0h5m18 0h1m5 0h4m1 0h1m11 0h1m17 0h1m2 0h2m151 0h1m3 0h1m11 0h2m8 0h1m3 0h1m3 0h1m1 0h1m3 0h1m37 0h1m4 0h4m15 0h2M95 116.5h2m6 0h2m8 0h3m3 0h1m2 0h1m7 0h3m8 0h1m5 0h3m25 0h1m40 0h2m107 0h2m3 0h2m8 0h1m13 0h2m5 0h1m1 0h2m6 0h1m7 0h2m1 0h2m8 0h1m16 0h2m4 0h3m14 0h2M95 117.5h4m10 0h2m1 0h3m5 0h2m6 0h5m1 0h2m11 0h2m5 0h1m9 0h1m51 0h2m106 0h3m1 0h1m1 0h2m3 0h1m4 0h1m13 0h2m1 0h1m8 0h2m10 0h1m1 0h1m1 0h2m7 0h2m17 0h1m1 0h1m17 0h1M90 118.5h2m2 0h4m1 0h2m1 0h1m1 0h2m3 0h2m3 0h2m2 0h4m1 0h2m2 0h2m5 0h2m6 0h1m2 0h2m7 0h1m8 0h2m58 0h1m100 0h3m1 0h1m6 0h1m4 0h1m3 0h5m8 0h1m4 0h3m7 0h1m4 0h2m12 0h1m5 0h1M90 119.5h2m4 0h2m2 0h1m3 0h2m6 0h1m1 0h2m2 0h2m2 0h3m2 0h2m13 0h1m11 0h1m4 0h1m41 0h2m20 0h1m101 0h2m4 0h2m1 0h1m7 0h2m1 0h4m5 0h3m5 0h2m1 0h1m10 0h1m2 0h2m8 0h1m7 0h1m11 0h1M105 120.5h2m3 0h8m4 0h1m1 0h3m2 0h1m1 0h1m5 0h1m13 0h1m2 0h2m66 0h2m106 0h2m2 0h1m3 0h3m3 0h1m3 0h1m6 0h2m3 0h1m4 0h2m7 0h1m13 0h1m3 0h1m6 0h1m22 0h2m13 0h1M97 121.5h1m7 0h3m2 0h1m1 0h3m1 0h3m2 0h2m6 0h3m4 0h3m3 0h3m6 0h1m50 0h1m123 0h3m2 0h2m5 0h1m1 0h2m6 0h2m8 0h3m10 0h1m2 0h1m17 0h1m24 0h2M97 122.5h1m7 0h2m3 0h1m1 0h2m1 0h2m1 0h5m1 0h1m5 0h3m1 0h1m1 0h3m2 0h1m6 0h1m1 0h1m6 0h1m45 0h1m122 0h2m3 0h2m7 0h2m6 0h4m6 0h2m1 0h1m1 0h1m5 0h2m3 0h2m8 0h2m12 0h1m4 0h1m3 0h1m4 0h1m2 0h1m1 0h2m18 0h1M89 123.5h2m15 0h1m2 0h2m1 0h1m2 0h2m1 0h3m5 0h1m4 0h2m1 0h1m1 0h1m1 0h1m2 0h2m5 0h1m2 0h3m10 0h2m37 0h1m121 0h2m9 0h1m3 0h1m7 0h1m1 0h2m9 0h1m1 0h1m5 0h1m33 0h1m8 0h1M86 124.5h1m2 0h4m7 0h1m5 0h1m4 0h1m6 0h2m2 0h1m15 0h2m1 0h3m2 0h1m4 0h3m3 0h1m4 0h1m171 0h3m2 0h1m9 0h1m4 0h1m4 0h1m9 0h1m2 0h1m9 0h2m7 0h1m18 0h1m1 0h1m19 0h1M90 125.5h2m6 0h1m1 0h2m1 0h1m2 0h1m4 0h3m3 0h3m3 0h3m7 0h1m1 0h1m1 0h2m2 0h3m2 0h1m4 0h4m173 0h1m6 0h1m4 0h1m10 0h2m1 0h1m1 0h2m1 0h1m12 0h1m2 0h3m2 0h1m1 0h2m7 0h2m17 0h1m21 0h1M89 126.5h2m14 0h1m9 0h1m6 0h1m1 0h2m1 0h1m3 0h3m1 0h1m1 0h1m2 0h3m2 0h2m1 0h1m15 0h2m3 0h2m33 0h1m14 0h2m105 0h1m1 0h1m4 0h3m3 0h2m3 0h2m1 0h1m5 0h2m2 0h1m6 0h1m6 0h2m4 0h2m1 0h1m13 0h1M89 127.5h2m7 0h1m4 0h1m1 0h3m6 0h1m3 0h2m2 0h1m1 0h1m3 0h1m3 0h1m4 0h1m1 0h5m1 0h2m1 0h4m4 0h3m1 0h2m2 0h2m13 0h1m39 0h2m108 0h2m2 0h3m2 0h3m3 0h2m7 0h2m16 0h2m13 0h2m1 0h1m46 0h2M89 128.5h2m2 0h2m1 0h3m4 0h1m2 0h1m2 0h2m3 0h3m2 0h2m1 0h2m2 0h3m8 0h2m3 0h2m1 0h2m4 0h1m4 0h1m9 0h1m168 0h2m1 0h1m12 0h2m3 0h3m4 0h1m5 0h2m1 0h2m2 0h1m9 0h2m1 0h1M87 129.5h1m1 0h2m5 0h2m9 0h1m2 0h2m4 0h2m1 0h2m1 0h2m8 0h2m3 0h4m4 0h1m4 0h1m15 0h1m4 0h2m152 0h1m9 0h2m3 0h2m3 0h1m4 0h1m1 0h1m3 0h2m1 0h2m6 0h1m1 0h2m1 0h4m34 0h1m3 0h1m1 0h1M94 130.5h1m8 0h1m1 0h1m1 0h13m2 0h4m1 0h2m2 0h4m4 0h1m4 0h1m1 0h1m10 0h2m3 0h1m3 0h2m3 0h3m23 0h2m5 0h2m5 0h1m123 0h2m3 0h4m2 0h2m2 0h1m2 0h7m5 0h1m1 0h1m5 0h4m16 0h1m15 0h1m4 0h3M87 131.5h3m1 0h3m3 0h3m1 0h1m5 0h7m3 0h4m2 0h3m1 0h2m2 0h1m1 0h3m2 0h1m6 0h3m3 0h1m5 0h2m52 0h1m113 0h1m3 0h2m5 0h2m1 0h1m2 0h4m1 0h4m2 0h4m1 0h3m1 0h2m3 0h1m2 0h2m1 0h1m2 0h1m21 0h2m9 0h1m4 0h2M87 132.5h3m3 0h2m2 0h2m4 0h8m3 0h2m1 0h7m11 0h1m2 0h2m4 0h2m2 0h6m31 0h1m18 0h2m127 0h1m1 0h1m3 0h1m1 0h1m3 0h1m1 0h5m1 0h1m3 0h4m9 0h1m2 0h1m1 0h1m2 0h1m11 0h2m2 0h1m3 0h1m1 0h1m2 0h1m1 0h2M89 133.5h1m6 0h1m1 0h2m1 0h2m1 0h6m1 0h8m1 0h4m2 0h4m1 0h4m1 0h2m1 0h2m5 0h2m1 0h2m1 0h2m3 0h1m2 0h1m165 0h3m3 0h8m4 0h2m1 0h1m2 0h2m1 0h1m1 0h1m6 0h1m3 0h1m3 0h1m7 0h1m4 0h1m14 0h3m2 0h1M86 134.5h2m7 0h1m2 0h3m2 0h4m1 0h2m1 0h2m4 0h2m8 0h3m1 0h4m4 0h2m8 0h3m5 0h1m2 0h1m165 0h3m3 0h1m3 0h4m4 0h5m4 0h1m1 0h1m3 0h2m1 0h1m3 0h3m14 0h3m2 0h2m8 0h2M86 135.5h2m1 0h1m1 0h3m1 0h1m3 0h4m3 0h6m3 0h1m1 0h2m6 0h2m1 0h2m1 0h2m1 0h4m3 0h1m7 0h4m35 0h1m139 0h2m6 0h4m6 0h3m10 0h2m1 0h3m3 0h2m15 0h1m1 0h3m2 0h2m4 0h1M86 136.5h3m1 0h4m5 0h2m3 0h6m1 0h1m3 0h5m2 0h1m1 0h6m4 0h4m1 0h2m10 0h2m16 0h2m157 0h2m1 0h1m6 0h1m1 0h6m3 0h1m5 0h4m1 0h5m3 0h2m7 0h2m13 0h2m4 0h1m15 0h1M88 137.5h1m1 0h4m1 0h2m2 0h1m1 0h2m1 0h2m1 0h3m7 0h3m2 0h1m2 0h7m1 0h4m2 0h2m7 0h2m1 0h2m16 0h2m6 0h1m146 0h1m3 0h4m3 0h2m1 0h1m1 0h1m2 0h2m2 0h3m1 0h2m1 0h1m2 0h2m1 0h1m1 0h6m1 0h1m1 0h2m7 0h1m6 0h1m5 0h1m5 0h2M90 138.5h1m1 0h5m1 0h1m1 0h2m2 0h1m2 0h3m6 0h6m3 0h3m3 0h1m1 0h10m5 0h2m6 0h2m13 0h2m19 0h1m131 0h1m2 0h2m6 0h2m3 0h1m3 0h2m1 0h2m2 0h2m1 0h3m1 0h1m2 0h2m1 0h4m3 0h5m11 0h1m5 0h1m5 0h2M92 139.5h1m1 0h2m1 0h4m6 0h5m6 0h5m2 0h3m4 0h2m2 0h2m5 0h1m8 0h6m32 0h1m1 0h1m134 0h2m3 0h3m5 0h2m5 0h1m1 0h1m1 0h2m1 0h3m3 0h5m1 0h3m5 0h1m6 0h1m4 0h3M87 140.5h1m4 0h1m2 0h5m5 0h5m1 0h2m9 0h1m3 0h2m1 0h1m2 0h2m2 0h1m5 0h1m1 0h1m7 0h3m8 0h2m25 0h1m41 0h1m94 0h2m3 0h3m2 0h1m2 0h1m2 0h1m1 0h1m3 0h4m2 0h1m4 0h4m2 0h4m4 0h1m4 0h1m1 0h1m5 0h2m7 0h1M87 141.5h1m7 0h1m3 0h2m4 0h1m1 0h6m5 0h1m3 0h2m5 0h1m6 0h3m2 0h4m11 0h4m3 0h2m67 0h1m92 0h2m1 0h1m5 0h5m1 0h3m3 0h2m1 0h4m1 0h1m2 0h1m5 0h2m3 0h1m7 0h1m2 0h1m8 0h2m6 0h1M88 142.5h1m1 0h3m1 0h2m4 0h2m1 0h4m2 0h1m1 0h2m1 0h2m1 0h2m1 0h1m1 0h5m2 0h3m1 0h2m1 0h3m2 0h2m8 0h2m1 0h1m1 0h4m22 0h1m143 0h1m4 0h1m2 0h2m1 0h5m4 0h2m2 0h1m3 0h1m8 0h2m7 0h3m3 0h2m8 0h2m5 0h2M86 143.5h1m1 0h2m1 0h8m1 0h2m1 0h4m2 0h3m2 0h2m1 0h4m1 0h1m1 0h8m4 0h2m1 0h2m11 0h1m5 0h1m9 0h1m13 0h1m145 0h1m2 0h1m3 0h4m6 0h3m1 0h3m11 0h1m2 0h1m3 0h4m2 0h1m3 0h2m8 0h1m1 0h2M84 144.5h2m1 0h3m2 0h2m3 0h2m2 0h1m1 0h4m1 0h3m2 0h4m3 0h2m2 0h1m2 0h2m2 0h1m4 0h2m1 0h2m3 0h1m3 0h1m26 0h2m148 0h1m10 0h5m2 0h5m1 0h3m3 0h2m1 0h2m1 0h1m1 0h1m1 0h1m5 0h2m3 0h1m3 0h2m10 0h2m20 0h1M88 145.5h3m1 0h5m1 0h1m1 0h2m2 0h3m1 0h3m1 0h2m1 0h3m3 0h1m1 0h2m2 0h1m5 0h2m4 0h2m5 0h1m1 0h1m4 0h1m1 0h1m10 0h1m8 0h2m147 0h3m1 0h1m7 0h1m1 0h4m1 0h3m1 0h6m3 0h3m9 0h2m1 0h3m13 0h1m3 0h1m22 0h1M87 146.5h1m1 0h2m2 0h1m10 0h10m1 0h4m1 0h3m1 0h2m1 0h4m2 0h5m12 0h1m2 0h1m1 0h1m10 0h2m164 0h2m1 0h2m2 0h4m2 0h1m3 0h2m3 0h4m10 0h2m17 0h1m3 0h1M87 147.5h2m1 0h1m7 0h7m6 0h1m3 0h6m3 0h2m2 0h4m5 0h2m1 0h2m3 0h2m1 0h1m1 0h2m15 0h1m12 0h2m142 0h2m6 0h5m2 0h2m1 0h1m2 0h1m3 0h3m6 0h1m7 0h2m12 0h2m19 0h1M86 148.5h2m3 0h4m1 0h10m1 0h5m4 0h4m1 0h2m1 0h4m1 0h6m5 0h4m1 0h2m1 0h2m30 0h1m143 0h2m1 0h2m1 0h1m2 0h1m2 0h1m3 0h2m7 0h1m6 0h1m15 0h2m4 0h2m19 0h1m1 0h1M86 149.5h2m3 0h4m1 0h2m2 0h13m1 0h1m3 0h2m1 0h8m1 0h5m2 0h2m3 0h6m8 0h2m3 0h2m21 0h1m139 0h1m2 0h2m3 0h1m2 0h2m3 0h2m3 0h4m2 0h3m1 0h2m3 0h1m16 0h1m3 0h2m3 0h1M84 150.5h2m1 0h1m4 0h5m2 0h1m1 0h4m1 0h9m1 0h2m1 0h5m3 0h2m1 0h3m1 0h1m2 0h2m1 0h2m2 0h3m7 0h5m4 0h2m19 0h1m139 0h4m4 0h2m1 0h1m3 0h1m2 0h2m2 0h8m6 0h1m1 0h1m7 0h1m1 0h1m8 0h1m4 0h1M84 151.5h2m1 0h1m1 0h2m5 0h2m1 0h3m1 0h10m3 0h2m1 0h2m1 0h1m2 0h2m1 0h1m1 0h3m7 0h2m2 0h2m11 0h2m2 0h1m2 0h2m158 0h5m4 0h2m3 0h1m1 0h4m3 0h1m2 0h1m11 0h3m5 0h1m1 0h1m6 0h2M84 152.5h2m1 0h4m1 0h2m5 0h7m2 0h5m1 0h9m2 0h2m1 0h3m1 0h3m4 0h2m5 0h2m9 0h1m2 0h2m12 0h1m151 0h4m1 0h2m1 0h1m3 0h1m1 0h2m7 0h2m35 0h1m1 0h1M87 153.5h2m5 0h3m2 0h1m1 0h1m1 0h4m1 0h1m3 0h6m1 0h2m1 0h2m4 0h3m2 0h2m2 0h3m1 0h1m6 0h3m39 0h1m134 0h2m9 0h1m2 0h3m3 0h1m17 0h2m21 0h1m1 0h1m9 0h1M92 154.5h1m1 0h2m3 0h8m1 0h1m1 0h8m2 0h8m5 0h3m1 0h5m4 0h1m2 0h2m1 0h1m1 0h1m4 0h4m4 0h1m166 0h2m3 0h4m1 0h2m3 0h2m6 0h2m8 0h1m6 0h1m21 0h3M90 155.5h2m1 0h5m1 0h4m1 0h6m2 0h4m1 0h2m1 0h2m2 0h8m1 0h6m1 0h4m2 0h3m2 0h2m1 0h2m3 0h3m5 0h1m166 0h2m3 0h2m3 0h2m3 0h2m7 0h1m8 0h1m26 0h1M87 156.5h3m2 0h15m3 0h4m2 0h3m3 0h10m1 0h4m1 0h1m3 0h2m3 0h6m2 0h1m1 0h2m5 0h2m6 0h1m151 0h2m1 0h1m1 0h1m20 0h5m3 0h1m19 0h1M87 157.5h2m2 0h3m1 0h7m3 0h9m1 0h11m1 0h10m1 0h2m2 0h2m5 0h2m2 0h1m1 0h1m8 0h2m6 0h1m153 0h1m3 0h1m5 0h1m7 0h2M84 158.5h1m3 0h6m2 0h11m1 0h7m1 0h6m2 0h3m1 0h5m3 0h1m1 0h2m3 0h2m2 0h2m4 0h2m4 0h1m1 0h1m14 0h3m3 0h1m145 0h3m9 0h1m3 0h2m5 0h1m16 0h1M84 159.5h1m2 0h3m1 0h3m1 0h9m3 0h4m1 0h3m2 0h4m1 0h2m1 0h3m2 0h2m1 0h1m1 0h2m1 0h1m3 0h1m1 0h1m1 0h1m4 0h2m1 0h1m4 0h1m1 0h1m1 0h1m71 0h1m101 0h1m2 0h1m3 0h1m3 0h2M89 160.5h5m2 0h5m1 0h2m1 0h1m1 0h6m1 0h5m1 0h3m3 0h2m1 0h4m2 0h3m4 0h1m3 0h1m1 0h2m6 0h2m3 0h2m2 0h1m164 0h1m1 0h2m10 0h1m3 0h2m1 0h1m11 0h1M86 161.5h2m2 0h3m1 0h7m2 0h9m1 0h6m1 0h4m2 0h2m1 0h4m4 0h1m2 0h3m1 0h1m2 0h5m2 0h4m11 0h2m159 0h1m4 0h2m7 0h1m3 0h1m2 0h1m14 0h1M86 162.5h1m2 0h1m2 0h34m2 0h3m1 0h5m2 0h5m3 0h1m2 0h2m2 0h3m22 0h2m147 0h4m3 0h2m9 0h2m18 0h1M86 163.5h2m1 0h1m1 0h16m1 0h2m1 0h7m2 0h5m2 0h1m1 0h1m1 0h1m1 0h4m2 0h1m1 0h3m2 0h1m7 0h2m23 0h2m144 0h2m1 0h1m13 0h2m2 0h2m7 0h2m1 0h2m8 0h1m11 0h1M88 164.5h3m2 0h7m1 0h6m1 0h12m1 0h1m2 0h1m2 0h1m4 0h2m2 0h6m1 0h4m8 0h2m3 0h2m12 0h1m153 0h2m12 0h2m7 0h1m2 0h1m13 0h2M87 165.5h3m1 0h1m1 0h18m1 0h6m1 0h4m1 0h1m1 0h2m1 0h1m3 0h2m3 0h1m8 0h1m1 0h3m3 0h3m2 0h5m9 0h2m151 0h3m12 0h1m8 0h1m14 0h2M88 166.5h2m1 0h2m1 0h3m1 0h19m2 0h3m2 0h4m1 0h2m1 0h2m2 0h2m3 0h4m2 0h4m2 0h3m2 0h3m3 0h1m7 0h4m159 0h3m7 0h2m9 0h1m3 0h2m7 0h3m4 0h3m16 0h1M85 167.5h4m1 0h28m2 0h2m2 0h4m2 0h1m2 0h6m1 0h1m4 0h3m1 0h1m1 0h5m2 0h3m3 0h1m3 0h3m1 0h2m59 0h2m90 0h1m34 0h2m14 0h2m1 0h1M87 168.5h1m2 0h1m1 0h1m1 0h1m1 0h20m1 0h1m1 0h2m1 0h3m1 0h2m1 0h2m1 0h2m3 0h4m1 0h2m1 0h1m1 0h1m1 0h1m2 0h1m1 0h2m3 0h1m4 0h1m4 0h1m188 0h1m10 0h2m7 0h2M91 169.5h25m3 0h2m1 0h2m1 0h6m1 0h3m1 0h1m1 0h1m6 0h1m8 0h2m4 0h2m1 0h1m1 0h1m159 0h2m5 0h2m9 0h2m4 0h1m13 0h2m6 0h1m10 0h2M86 170.5h4m1 0h4m1 0h17m1 0h3m1 0h5m1 0h6m2 0h2m1 0h1m7 0h6m5 0h1m5 0h1m9 0h2m153 0h2m2 0h1m2 0h3m8 0h1m10 0h2m4 0h2m6 0h1m13 0h2m14 0h2M88 171.5h2m3 0h26m1 0h1m1 0h2m1 0h4m2 0h3m1 0h1m4 0h9m5 0h1m3 0h1m1 0h1m172 0h4m2 0h1m2 0h1m11 0h2m30 0h1M86 172.5h4m1 0h35m1 0h2m1 0h1m1 0h1m3 0h3m2 0h2m1 0h2m1 0h2m7 0h1m1 0h2m170 0h2m3 0h5m3 0h2m1 0h3m7 0h1m18 0h1m12 0h2M86 173.5h2m2 0h6m1 0h19m1 0h14m1 0h4m1 0h4m2 0h2m2 0h2m4 0h2m6 0h1m168 0h2m1 0h1m1 0h1m3 0h1m1 0h2m4 0h1m8 0h1m18 0h1M87 174.5h37m1 0h3m2 0h1m1 0h3m2 0h5m2 0h2m1 0h3m2 0h2m6 0h2m166 0h2m3 0h1m10 0h2m1 0h1M87 175.5h6m1 0h22m1 0h7m1 0h1m2 0h3m1 0h4m2 0h2m1 0h1m3 0h5m1 0h3m4 0h2m167 0h3m2 0h2m12 0h3m5 0h1M87 176.5h1m1 0h4m2 0h32m1 0h1m1 0h1m1 0h5m3 0h3m1 0h5m2 0h4m2 0h3m173 0h1m12 0h3m2 0h1m2 0h2m13 0h2M89 177.5h1m1 0h24m1 0h6m1 0h1m2 0h2m2 0h1m1 0h7m1 0h2m1 0h4m179 0h1m6 0h1m7 0h1m9 0h1m2 0h2m11 0h1m1 0h2m4 0h1M86 178.5h1m1 0h34m1 0h1m1 0h3m2 0h1m1 0h5m4 0h2m1 0h4m3 0h2m173 0h2m5 0h1m9 0h2m1 0h1m5 0h1m5 0h1M87 179.5h4m1 0h36m1 0h2m1 0h5m4 0h5m5 0h2m173 0h2m3 0h2m13 0h1m4 0h1m6 0h1M86 180.5h42m1 0h1m2 0h9m2 0h3m2 0h2m174 0h2m4 0h3m6 0h1m4 0h3m4 0h3m28 0h2M86 181.5h1m2 0h1m1 0h28m1 0h8m1 0h2m1 0h1m2 0h3m1 0h3m1 0h3m1 0h1m1 0h2m179 0h3m6 0h1m1 0h2m1 0h2m1 0h1m26 0h2m6 0h2M87 182.5h3m2 0h39m1 0h7m1 0h2m1 0h2m2 0h4m180 0h2m1 0h2m1 0h1m1 0h5m3 0h2m2 0h2M86 183.5h3m1 0h34m1 0h5m2 0h7m1 0h5m2 0h2m175 0h4m6 0h4m3 0h3m11 0h1m12 0h2m8 0h2M87 184.5h3m1 0h1m2 0h32m1 0h1m1 0h1m1 0h9m1 0h2m181 0h2m3 0h4m2 0h2m1 0h1m2 0h1m18 0h2m5 0h3M86 185.5h40m1 0h3m1 0h10m183 0h1m5 0h2m7 0h4m7 0h2m2 0h1m2 0h2m1 0h2m10 0h1M89 186.5h1m1 0h2m1 0h44m1 0h2m183 0h3m2 0h1m2 0h2m1 0h2m2 0h2m3 0h2m4 0h2m6 0h2m2 0h2m7 0h2M87 187.5h1m3 0h1m2 0h44m1 0h2m92 0h2m89 0h5m3 0h2m1 0h2m2 0h1m8 0h1m2 0h1m4 0h1m3 0h4m7 0h2M89 188.5h36m1 0h12m191 0h1m1 0h1m7 0h1m16 0h1m14 0h2M88 189.5h7m1 0h39m193 0h2m15 0h1m4 0h1m1 0h2m12 0h2m3 0h2M86 190.5h2m1 0h44m192 0h2m1 0h2m5 0h1m4 0h1m6 0h2m3 0h2m12 0h2M85 191.5h2m2 0h1m1 0h41m192 0h2m4 0h2m2 0h1m5 0h2m8 0h2M84 192.5h3m2 0h40m196 0h1m4 0h2m2 0h1m2 0h2m2 0h1m18 0h2m2 0h1m3 0h2M84 193.5h1m3 0h38m1 0h2m104 0h2m93 0h1m8 0h2m1 0h2m14 0h1m25 0h1M86 194.5h1m4 0h35m199 0h1m2 0h1m4 0h2m3 0h4m4 0h4m1 0h1M86 195.5h4m1 0h3m1 0h27m205 0h1m5 0h3m4 0h2m4 0h2m2 0h1m24 0h2M87 196.5h2m1 0h4m1 0h27m203 0h2m2 0h5m1 0h1m4 0h2m5 0h2m1 0h1m7 0h1m2 0h1M86 197.5h3m1 0h30m205 0h2m2 0h5m10 0h4m3 0h1M90 198.5h28m208 0h2m1 0h4m3 0h3m6 0h2m4 0h1m3 0h2m8 0h2M91 199.5h27m208 0h2m1 0h3m4 0h2m3 0h2m8 0h2m3 0h2m7 0h2M87 200.5h3m1 0h24m220 0h2m4 0h2m2 0h1m1 0h2m2 0h2m4 0h2M88 201.5h3m1 0h21m213 0h1m1 0h2m7 0h1m2 0h1m7 0h1m2 0h3m3 0h2M87 202.5h23m1 0h1m212 0h5m4 0h2m1 0h6m3 0h4m9 0h2m3 0h1m1 0h1m21 0h1M86 203.5h1m1 0h2m1 0h19m214 0h3m5 0h2m1 0h1m4 0h2m1 0h1m1 0h2m2 0h2m5 0h4m3 0h1m23 0h1M84 204.5h1m3 0h6m1 0h14m216 0h3m1 0h2m1 0h2m5 0h1m3 0h3m13 0h1M88 205.5h20m217 0h3m4 0h1m3 0h2m1 0h2m3 0h2m8 0h2m3 0h1M86 206.5h1m1 0h3m2 0h4m1 0h7m127 0h1m91 0h2m6 0h1m3 0h2m2 0h1m1 0h1m4 0h2M86 207.5h4m1 0h13m128 0h1m97 0h1m2 0h1m12 0h3m9 0h3M88 208.5h16m226 0h1m17 0h1m12 0h2m5 0h1m33 0h2M87 209.5h5m2 0h10m222 0h2m2 0h3m7 0h2m7 0h1m4 0h1m6 0h2M86 210.5h3m1 0h2m1 0h10m128 0h2m92 0h3m3 0h2m7 0h3m3 0h1m2 0h2m11 0h2M86 211.5h6m1 0h10m222 0h2m14 0h3m2 0h1m12 0h1m2 0h2m5 0h2M86 212.5h7m2 0h2m1 0h4m111 0h1m111 0h1m10 0h1m4 0h4m20 0h1m3 0h2m12 0h2M88 213.5h1m2 0h2m1 0h3m1 0h2m225 0h1m1 0h3m3 0h2m1 0h1m6 0h3m2 0h3M88 214.5h3m2 0h4m90 0h1m1 0h1m137 0h3m3 0h2m1 0h3m3 0h2m1 0h1m5 0h2m5 0h2m1 0h1m7 0h1M88 215.5h2m1 0h1m1 0h4m229 0h1m3 0h2m2 0h3m14 0h2m5 0h1m2 0h1m7 0h1M91 216.5h5m1 0h1m76 0h1m151 0h5m4 0h2m3 0h2m18 0h1M91 217.5h2m2 0h1m140 0h1m88 0h2m3 0h3m2 0h3m1 0h1m16 0h1m3 0h3m2 0h1m11 0h2M97 218.5h2m82 0h1m54 0h1m88 0h3m2 0h4m5 0h2m3 0h2m1 0h4m10 0h2m7 0h1m4 0h2m1 0h1M88 219.5h1m1 0h1m3 0h1m1 0h4m50 0h1m174 0h3m2 0h2m7 0h2m8 0h1m3 0h1m5 0h2m3 0h1m13 0h1M88 220.5h1m2 0h2m2 0h2m53 0h1m14 0h1m159 0h2m3 0h2m7 0h3m3 0h3m2 0h2m12 0h1M88 221.5h2m2 0h1m3 0h3m34 0h1m92 0h1m98 0h2m1 0h1m2 0h1m2 0h1m1 0h2m3 0h1m1 0h6m1 0h2m1 0h3m30 0h2M88 222.5h2m5 0h3m2 0h1m227 0h1m5 0h1m2 0h3m3 0h2m1 0h2m4 0h2m3 0h2m27 0h2M89 223.5h1m5 0h3m2 0h4m18 0h2m107 0h1m92 0h2m3 0h1m8 0h1m3 0h1m2 0h1m1 0h2m4 0h1m2 0h1m20 0h2m1 0h2M89 224.5h2m1 0h2m2 0h2m2 0h6m1 0h2m219 0h4m11 0h1m1 0h1m2 0h1m2 0h1m1 0h2m1 0h1m6 0h1m13 0h2m1 0h2M86 225.5h2m1 0h2m2 0h2m1 0h2m2 0h1m1 0h1m1 0h2m49 0h2m169 0h2m2 0h2m9 0h3m4 0h1m3 0h1m1 0h1M86 226.5h2m5 0h2m7 0h1m1 0h2m49 0h2m169 0h2m8 0h2m3 0h3m2 0h1m8 0h1M332 227.5h2m2 0h2m4 0h1m3 0h2m1 0h2m3 0h1m1 0h1m10 0h1M332 228.5h2m2 0h1m5 0h1m6 0h3m4 0h1m2 0h2M331 229.5h1m19 0h1m11 0h2M339 230.5h2m1 0h3m6 0h2m3 0h2m6 0h2m5 0h1M332 231.5h2m5 0h2m8 0h2m6 0h2m1 0h1m5 0h2m1 0h1M326 232.5h1m3 0h1m1 0h2m11 0h1m1 0h2m1 0h1m2 0h1m3 0h2m1 0h2m4 0h2m1 0h1m11 0h2M326 233.5h1m3 0h1m14 0h1m7 0h1m4 0h1m1 0h2m19 0h2M442 380.5h1M399 387.5h1M377 389.5h2M349 391.5h2M407 393.5h1M365 394.5h3m39 0h1m33 0h1M365 395.5h3m73 0h1M369 396.5h2m48 0h2m13 0h2M102 397.5h2m252 0h2m11 0h2m26 0h2m35 0h2M102 398.5h2m252 0h4m37 0h2M358 399.5h2m3 0h1m5 0h1m55 0h1m7 0h1m9 0h1m4 0h2M359 400.5h1m3 0h1m14 0h2m45 0h1m7 0h1m14 0h2m4 0h2M366 401.5h2m12 0h2m21 0h2M366 402.5h2m19 0h2m8 0h2M353 403.5h4m58 0h1M99 404.5h1m9 0h2m242 0h4m58 0h2m19 0h1M99 405.5h1m9 0h2m249 0h2m3 0h1m5 0h1m25 0h1m2 0h1m26 0h1m8 0h1M365 406.5h1m4 0h2m5 0h2m5 0h2m22 0h1m23 0h1M111 407.5h1m250 0h3m4 0h1m1 0h2m18 0h2m15 0h1M111 408.5h1m6 0h2m231 0h1m11 0h2m3 0h1m6 0h3m2 0h2m20 0h1m17 0h2M95 409.5h1m4 0h1m245 0h2m3 0h1m1 0h2m7 0h2m16 0h2m51 0h1M95 410.5h1m27 0h1m229 0h2m13 0h2m11 0h1m1 0h1m6 0h1m2 0h1m18 0h2m2 0h2m15 0h1M355 411.5h2m3 0h1m4 0h1m1 0h3m11 0h1m1 0h1m3 0h2m1 0h1m2 0h2m9 0h1M355 412.5h2m10 0h2m14 0h1m9 0h1m5 0h1m2 0h1m4 0h1m4 0h1m24 0h1m2 0h2M354 413.5h1m4 0h3m5 0h2m8 0h1m2 0h2m1 0h1m8 0h2m8 0h1m4 0h1m4 0h1m27 0h2M95 414.5h2m3 0h1m259 0h2m4 0h3m4 0h1m6 0h2m7 0h2m1 0h1m5 0h1m20 0h1M100 415.5h1m261 0h2m3 0h1m4 0h2m3 0h2m10 0h2m7 0h2m15 0h2m2 0h1M102 416.5h1m240 0h5m14 0h2m3 0h2m1 0h1m1 0h1m1 0h2m1 0h3m2 0h2m4 0h3m7 0h2m21 0h2m8 0h1m4 0h1M102 417.5h1m242 0h3m10 0h1m7 0h1m2 0h2m3 0h3m1 0h2m2 0h2m3 0h3m2 0h1m20 0h1m7 0h2m8 0h1m4 0h1M102 418.5h1m250 0h2m13 0h4m3 0h2m1 0h2m7 0h1m2 0h1m1 0h1m6 0h3M101 419.5h2m245 0h1m8 0h1m1 0h2m1 0h1m1 0h1m3 0h5m3 0h2m5 0h2m4 0h1m13 0h1m7 0h1m14 0h1M92 420.5h1m4 0h2m3 0h1m1 0h4m10 0h1m229 0h1m8 0h1m3 0h2m1 0h1m2 0h1m3 0h1m1 0h3m4 0h1m1 0h2m5 0h2m4 0h1m3 0h2m10 0h1m5 0h2m2 0h2m3 0h1M102 421.5h2m1 0h3m3 0h2m1 0h2m2 0h1m232 0h2m6 0h3m2 0h2m1 0h2m2 0h4m8 0h1m6 0h1m6 0h1m1 0h1m17 0h2M100 422.5h4m247 0h5m2 0h2m1 0h1m1 0h6m1 0h5m2 0h1m2 0h1m20 0h1M92 423.5h2m5 0h1m2 0h1m5 0h1m249 0h2m3 0h4m1 0h7m2 0h3m6 0h1m35 0h1m11 0h2M94 424.5h1m2 0h1m9 0h2m233 0h2m20 0h1m3 0h4m5 0h1m1 0h2m1 0h2m1 0h2m11 0h1M89 425.5h1m4 0h1m2 0h1m1 0h3m3 0h2m1 0h1m240 0h1m1 0h1m1 0h2m10 0h5m6 0h2m2 0h2m1 0h1m1 0h1m16 0h1M89 426.5h1m7 0h1m2 0h2m244 0h1m2 0h3m1 0h2m3 0h2m1 0h1m5 0h3m2 0h2m2 0h1m3 0h6m16 0h2m9 0h1m7 0h1M86 427.5h2m8 0h4m17 0h2m230 0h2m2 0h2m3 0h6m2 0h5m3 0h6m2 0h4m6 0h2m8 0h2m9 0h1m7 0h1m3 0h1M81 428.5h2m12 0h1m1 0h3m251 0h1m10 0h2m2 0h2m1 0h3m1 0h1m1 0h5m5 0h1m5 0h3m7 0h2m1 0h1m3 0h1M81 429.5h2m9 0h1m2 0h1m2 0h4m2 0h2m2 0h1m235 0h2m5 0h1m13 0h2m3 0h1m3 0h1m4 0h3m19 0h2m7 0h2m10 0h1M90 430.5h2m3 0h1m3 0h1m3 0h2m3 0h1m6 0h2m228 0h1m7 0h3m6 0h1m1 0h3m1 0h1m1 0h1m2 0h4m1 0h1m1 0h1m24 0h1M80 431.5h1m6 0h2m12 0h1m5 0h3m5 0h2m227 0h2m4 0h1m2 0h3m3 0h1m2 0h3m1 0h1m1 0h1m1 0h1m3 0h1m1 0h2m1 0h4m13 0h1m2 0h1M87 432.5h2m4 0h2m5 0h4m4 0h2m240 0h1m7 0h3m2 0h4m1 0h3m1 0h1m1 0h2m1 0h1m1 0h3m17 0h1m2 0h1m9 0h2m13 0h2M87 433.5h2m3 0h3m2 0h1m2 0h2m2 0h3m1 0h1m10 0h2m239 0h1m1 0h2m1 0h4m1 0h1m2 0h5m1 0h3m1 0h3m1 0h2m9 0h2m2 0h1M89 434.5h2m1 0h4m1 0h1m1 0h1m2 0h1m2 0h2m8 0h2m2 0h2m232 0h3m2 0h1m6 0h4m1 0h2m1 0h3m1 0h1m7 0h1m2 0h1m7 0h4m5 0h2M90 435.5h1m3 0h2m1 0h1m4 0h1m12 0h2m232 0h1m2 0h1m1 0h2m6 0h1m5 0h10m10 0h1m8 0h2m6 0h2M90 436.5h1m3 0h3m1 0h2m2 0h3m235 0h1m2 0h1m5 0h4m2 0h1m3 0h5m2 0h5m1 0h3m3 0h1m2 0h2m1 0h1m4 0h3m10 0h1M89 437.5h1m4 0h2m1 0h3m2 0h3m1 0h2m235 0h1m6 0h2m3 0h2m2 0h8m1 0h2m1 0h3m7 0h2m4 0h2m2 0h1m6 0h1m49 0h2M84 438.5h2m12 0h3m6 0h1m248 0h2m1 0h1m2 0h1m1 0h6m2 0h3m1 0h2m1 0h2m5 0h3m59 0h2M84 439.5h2m19 0h1m1 0h1m247 0h3m4 0h1m2 0h6m2 0h2m7 0h2m4 0h1m4 0h1m1 0h1M85 440.5h2m7 0h6m1 0h1m3 0h1m243 0h1m5 0h3m4 0h7m1 0h4m1 0h2m2 0h2m1 0h2m11 0h1M78 441.5h1m11 0h3m1 0h5m1 0h1m248 0h1m6 0h4m2 0h4m1 0h1m3 0h1m1 0h2m3 0h3m4 0h1m2 0h2m15 0h1M96 442.5h1m3 0h2m253 0h1m1 0h2m6 0h1m1 0h2m2 0h1m1 0h3m2 0h2m3 0h3m2 0h2m15 0h1M85 443.5h1m2 0h1m8 0h1m1 0h3m4 0h1m238 0h1m2 0h8m1 0h1m2 0h3m1 0h7m2 0h3m2 0h1m1 0h2m1 0h2m1 0h1m2 0h2m30 0h1M91 444.5h2m252 0h2m1 0h1m5 0h2m1 0h1m2 0h2m1 0h3m5 0h2m2 0h8m3 0h1m14 0h2m7 0h2M81 445.5h1m7 0h4m1 0h2m6 0h1m238 0h2m6 0h1m4 0h1m2 0h1m3 0h1m1 0h2m1 0h2m4 0h1m2 0h4m2 0h4m1 0h1m23 0h2M71 446.5h2m2 0h2m12 0h2m4 0h2m5 0h1m248 0h3m1 0h2m4 0h4m2 0h1m1 0h5m1 0h5m3 0h1m11 0h2M71 447.5h2m4 0h2m6 0h3m2 0h1m3 0h1m3 0h1m6 0h1m247 0h9m2 0h8m1 0h1m2 0h3m4 0h1m2 0h2m7 0h2M77 448.5h2m7 0h2m1 0h6m11 0h2m239 0h4m2 0h2m2 0h3m1 0h1m1 0h3m3 0h5m7 0h1m4 0h1m1 0h1m2 0h1m7 0h2M76 449.5h2m7 0h1m4 0h4m5 0h2m2 0h1m233 0h2m8 0h4m3 0h2m1 0h2m3 0h1m4 0h1m1 0h5m3 0h2m2 0h1m4 0h1m1 0h1m2 0h1m1 0h2M75 450.5h3m7 0h2m1 0h3m3 0h1m1 0h2m249 0h3m4 0h5m4 0h1m3 0h4m1 0h2m3 0h2m4 0h1m8 0h4m6 0h2M83 451.5h2m1 0h3m4 0h1m2 0h1m2 0h3m1 0h1m6 0h1m231 0h3m6 0h1m3 0h3m1 0h2m1 0h2m1 0h6m1 0h3m4 0h1m3 0h1m8 0h1m1 0h2M83 452.5h4m12 0h3m8 0h1m240 0h1m3 0h3m1 0h4m4 0h2m1 0h1m1 0h2m5 0h1m8 0h3M70 453.5h2m4 0h1m1 0h1m4 0h4m4 0h1m7 0h3m14 0h2m216 0h1m12 0h3m2 0h2m1 0h4m2 0h3m1 0h2m1 0h1m1 0h1m1 0h6m23 0h2M70 454.5h2m10 0h3m3 0h1m1 0h2m1 0h2m2 0h2m3 0h2m234 0h1m1 0h1m2 0h1m5 0h1m1 0h7m1 0h5m1 0h1m4 0h1m4 0h1m7 0h2m16 0h2M75 455.5h2m7 0h1m3 0h1m1 0h5m2 0h3m232 0h1m7 0h2m1 0h2m2 0h2m2 0h4m1 0h2m2 0h7m8 0h3m10 0h1M57 456.5h2m21 0h1m6 0h1m1 0h3m5 0h1m1 0h2m2 0h4m1 0h1m2 0h2m224 0h1m2 0h3m1 0h2m1 0h2m1 0h11m1 0h2m1 0h4m3 0h3m1 0h2m4 0h2m20 0h1M80 457.5h1m6 0h2m1 0h2m2 0h1m1 0h5m10 0h2m232 0h1m2 0h1m1 0h1m2 0h2m2 0h4m1 0h5m5 0h3m1 0h2m2 0h4m5 0h1M81 458.5h1m4 0h2m1 0h2m2 0h2m1 0h1m1 0h4m5 0h1m11 0h1m230 0h1m2 0h2m1 0h5m2 0h4m3 0h1m2 0h1m8 0h3m4 0h1m4 0h1M80 459.5h2m1 0h1m6 0h1m7 0h4m3 0h3m11 0h1m227 0h6m1 0h7m2 0h5m1 0h3m1 0h3m8 0h1m4 0h1m7 0h2M79 460.5h1m4 0h1m4 0h5m1 0h1m2 0h4m2 0h2m1 0h2m225 0h1m3 0h1m1 0h2m1 0h2m4 0h4m1 0h3m1 0h10m1 0h4m1 0h2m8 0h1m4 0h2M77 461.5h1m1 0h3m2 0h11m2 0h3m5 0h4m10 0h2m215 0h2m2 0h2m2 0h7m2 0h1m1 0h4m1 0h7m3 0h4m1 0h1m5 0h2m6 0h2m15 0h1M77 462.5h1m1 0h1m1 0h2m1 0h3m2 0h2m1 0h8m3 0h1m15 0h2m218 0h3m2 0h2m3 0h2m1 0h2m1 0h13m1 0h6m1 0h3m2 0h1m24 0h1M78 463.5h4m1 0h4m1 0h5m4 0h1m4 0h2m1 0h1m233 0h5m3 0h17m1 0h5m6 0h3m2 0h1M78 464.5h4m1 0h1m3 0h2m2 0h7m1 0h1m5 0h2m239 0h17m4 0h7m5 0h2M81 465.5h1m3 0h3m2 0h5m2 0h1m1 0h1m237 0h2m7 0h3m1 0h14m3 0h4m1 0h2m5 0h2M78 466.5h2m1 0h2m3 0h2m2 0h2m1 0h2m4 0h1m5 0h4m228 0h2m9 0h6m1 0h10m1 0h5m1 0h2m7 0h1M78 467.5h2m3 0h6m1 0h3m9 0h2m236 0h2m1 0h1m6 0h18m2 0h2m8 0h2m8 0h2m10 0h2M79 468.5h1m1 0h1m1 0h2m1 0h3m2 0h2m2 0h2m3 0h4m236 0h1m4 0h1m3 0h19m1 0h4m1 0h2m6 0h3m5 0h2M79 469.5h1m1 0h1m3 0h3m1 0h4m1 0h2m5 0h1m223 0h1m6 0h2m6 0h2m2 0h1m4 0h1m1 0h14m1 0h1m2 0h4m1 0h2M74 470.5h1m6 0h2m1 0h4m2 0h5m4 0h1m1 0h4m2 0h1m217 0h1m5 0h1m4 0h2m2 0h4m4 0h16m2 0h3m2 0h1m3 0h2m3 0h2m1 0h1M74 471.5h1m6 0h2m1 0h2m2 0h8m2 0h2m7 0h1m223 0h1m4 0h2m10 0h6m1 0h4m2 0h1m1 0h3m1 0h3m1 0h1m8 0h1M72 472.5h1m2 0h2m1 0h1m4 0h2m1 0h6m3 0h5m226 0h1m10 0h5m4 0h2m1 0h2m2 0h7m1 0h5m1 0h3m1 0h2m1 0h2m4 0h1m57 0h1M75 473.5h4m3 0h3m1 0h2m1 0h2m2 0h2m1 0h3m1 0h1m1 0h1m234 0h3m2 0h4m3 0h14m1 0h1m2 0h2m2 0h3m2 0h1M75 474.5h3m9 0h1m1 0h1m8 0h1m2 0h3m229 0h2m2 0h1m4 0h23m2 0h2m2 0h3m6 0h1M63 475.5h1m6 0h2m4 0h3m3 0h2m2 0h5m7 0h1m4 0h2m233 0h2m1 0h7m1 0h1m1 0h4m1 0h8m1 0h3m2 0h4M62 476.5h1m15 0h2m4 0h2m1 0h3m1 0h2m20 0h2m214 0h1m1 0h2m5 0h2m1 0h3m2 0h2m1 0h10m1 0h2m3 0h5m7 0h1M78 477.5h1m2 0h2m1 0h3m1 0h1m2 0h2m3 0h3m14 0h2m212 0h1m1 0h1m1 0h3m1 0h2m1 0h1m1 0h2m1 0h4m3 0h20M78 478.5h2m3 0h1m2 0h10m1 0h2m228 0h1m4 0h2m2 0h1m1 0h2m3 0h24m3 0h1m1 0h1m2 0h1m1 0h1M77 479.5h1m1 0h1m7 0h2m1 0h5m3 0h1m1 0h1m1 0h1m229 0h1m6 0h3m3 0h1m1 0h17m1 0h2m2 0h5m1 0h1m20 0h1M56 480.5h1m14 0h2m3 0h4m6 0h3m1 0h4m2 0h1m5 0h1m224 0h2m6 0h2m1 0h1m1 0h4m1 0h5m1 0h18m2 0h4m21 0h1M76 481.5h2m8 0h3m1 0h1m4 0h7m6 0h2m225 0h1m2 0h2m2 0h2m1 0h22m6 0h2m2 0h2M63 482.5h2m3 0h2m6 0h2m2 0h2m2 0h2m3 0h1m4 0h4m2 0h2m5 0h1m231 0h5m1 0h21m2 0h2m3 0h1M68 483.5h6m2 0h2m1 0h7m3 0h1m3 0h4m10 0h1m216 0h1m11 0h8m1 0h1m1 0h22m2 0h3m17 0h1M69 484.5h5m2 0h2m2 0h1m1 0h2m1 0h4m2 0h1m1 0h4m1 0h1m1 0h1m6 0h1m216 0h1m6 0h2m3 0h2m2 0h25m1 0h4m1 0h1m5 0h1m1 0h1M70 485.5h1m5 0h2m3 0h4m2 0h2m2 0h2m1 0h1m1 0h2m2 0h1m2 0h1m228 0h1m1 0h2m4 0h5m1 0h24m2 0h1m1 0h1M70 486.5h2m2 0h1m1 0h2m1 0h3m2 0h1m3 0h1m1 0h4m2 0h1m1 0h2m3 0h2m235 0h29m3 0h1m1 0h3m1 0h1M63 487.5h2m1 0h1m7 0h1m1 0h2m1 0h2m2 0h7m1 0h7m1 0h2m3 0h1m232 0h1m2 0h2m1 0h27M67 488.5h2m5 0h3m6 0h7m1 0h9m2 0h1m233 0h2m2 0h2m1 0h27m6 0h1M67 489.5h1m1 0h3m1 0h4m5 0h9m3 0h1m2 0h2m7 0h1m219 0h3m10 0h3m1 0h21m2 0h1m1 0h1m6 0h2m2 0h1M68 490.5h2m3 0h4m1 0h1m6 0h5m2 0h1m1 0h5m228 0h2m3 0h1m4 0h1m1 0h1m1 0h23m1 0h2m7 0h3M74 491.5h6m1 0h8m1 0h2m2 0h3m1 0h1m1 0h1m231 0h1m2 0h3m1 0h3m1 0h21m1 0h3m1 0h2m3 0h2M74 492.5h6m1 0h1m2 0h1m1 0h2m2 0h7m3 0h1m234 0h2m1 0h4m1 0h20m1 0h5M70 493.5h2m1 0h2m4 0h7m4 0h2m3 0h3m19 0h2m217 0h2m1 0h2m1 0h24m2 0h2m1 0h2m6 0h2M72 494.5h2m1 0h2m1 0h6m1 0h1m1 0h2m2 0h3m1 0h2m4 0h1m3 0h2m225 0h1m1 0h7m1 0h22m1 0h8m1 0h2M63 495.5h1m3 0h1m5 0h4m1 0h5m4 0h3m1 0h1m7 0h1m234 0h5m1 0h28m1 0h1m1 0h1m2 0h1m1 0h1M63 496.5h1m3 0h1m6 0h2m1 0h1m1 0h11m7 0h1m231 0h2m4 0h3m2 0h25m1 0h2m1 0h3m2 0h1m1 0h1m8 0h2M66 497.5h1m8 0h12m1 0h5m1 0h1m15 0h2m223 0h1m4 0h27m1 0h5m1 0h1m1 0h2m2 0h1M68 498.5h1m5 0h2m3 0h6m1 0h1m2 0h4m1 0h2m3 0h1m10 0h2m216 0h2m8 0h1m2 0h25m1 0h2m1 0h1m1 0h2m2 0h2m2 0h1M74 499.5h4m4 0h1m1 0h6m1 0h2m1 0h3m232 0h1m8 0h1m2 0h3m2 0h18m1 0h5m2 0h2M63 500.5h1m2 0h1m2 0h8m1 0h1m2 0h2m1 0h3m1 0h2m1 0h2m2 0h3m12 0h2m216 0h2m3 0h2m2 0h1m2 0h4m2 0h19m1 0h5m3 0h1M63 501.5h1m1 0h2m4 0h8m2 0h2m1 0h3m1 0h2m1 0h5m14 0h2m222 0h1m5 0h24m1 0h6m1 0h1m2 0h2m6 0h1M59 502.5h1m7 0h4m2 0h5m1 0h1m3 0h3m2 0h3m1 0h3m237 0h1m4 0h2m2 0h25m2 0h2m3 0h1m1 0h1m7 0h1M59 503.5h1m2 0h2m3 0h4m3 0h3m1 0h2m1 0h2m1 0h5m1 0h3m4 0h1m6 0h2m220 0h2m10 0h1m1 0h1m1 0h19m2 0h6m3 0h3M73 504.5h9m1 0h2m1 0h9m2 0h1m226 0h1m1 0h2m4 0h1m5 0h26m2 0h5m1 0h1m2 0h1m8 0h1M67 505.5h1m3 0h7m1 0h1m1 0h5m1 0h4m3 0h1m229 0h1m7 0h2m1 0h3m1 0h6m2 0h11m1 0h5m3 0h4m1 0h1m2 0h2m3 0h2M64 506.5h2m1 0h3m1 0h2m6 0h1m2 0h1m1 0h4m1 0h1m1 0h2m1 0h2m1 0h1m227 0h2m8 0h1m2 0h3m2 0h21m7 0h1m3 0h2m3 0h2M64 507.5h3m1 0h2m5 0h5m4 0h4m3 0h2m1 0h2m5 0h1m226 0h1m6 0h1m3 0h1m2 0h22m3 0h1m2 0h2m10 0h2M69 508.5h1m5 0h5m4 0h1m2 0h1m1 0h2m3 0h2m232 0h3m8 0h1m1 0h7m2 0h9m1 0h6m1 0h1m1 0h2m2 0h2M59 509.5h1m13 0h6m2 0h3m1 0h6m244 0h3m1 0h1m1 0h1m1 0h15m1 0h15M66 510.5h2m5 0h4m3 0h3m4 0h2m246 0h2m5 0h4m1 0h13m1 0h13M62 511.5h1m3 0h2m2 0h1m2 0h9m5 0h2m8 0h1m5 0h2m231 0h4m2 0h1m1 0h6m2 0h5m1 0h7m1 0h3m9 0h2M74 512.5h4m3 0h1m5 0h4m1 0h1m2 0h1m237 0h1m2 0h1m2 0h4m1 0h8m1 0h5m1 0h5m3 0h1m10 0h2M60 513.5h1m13 0h2m2 0h2m1 0h8m1 0h1m1 0h1m1 0h1m238 0h1m2 0h1m3 0h19m2 0h2m1 0h1m1 0h2m6 0h1M64 514.5h1m7 0h1m2 0h5m2 0h2m3 0h1m6 0h1m235 0h2m8 0h19m2 0h2m1 0h1m2 0h1m1 0h1m4 0h2M60 515.5h1m5 0h1m1 0h1m5 0h7m1 0h3m5 0h4m236 0h2m2 0h1m5 0h8m1 0h14m1 0h2m3 0h1M73 516.5h11m1 0h2m1 0h4m13 0h1m221 0h2m5 0h1m3 0h2m1 0h2m1 0h2m1 0h15m3 0h2M67 517.5h1m2 0h2m1 0h5m1 0h5m1 0h2m1 0h2m1 0h2m12 0h1m224 0h1m3 0h1m2 0h5m3 0h4m1 0h9m3 0h1m1 0h3m2 0h3m7 0h2M76 518.5h6m1 0h1m1 0h3m238 0h1m4 0h1m3 0h7m1 0h2m1 0h8m1 0h5m2 0h1m1 0h3m2 0h1M61 519.5h1m8 0h1m6 0h3m4 0h4m3 0h1m3 0h1m230 0h1m4 0h1m1 0h4m3 0h22m3 0h1m6 0h1M63 520.5h2m6 0h4m4 0h2m1 0h2m2 0h1m4 0h1m3 0h1m235 0h1m1 0h2m5 0h1m4 0h4m1 0h7m1 0h3m3 0h2m3 0h1M63 521.5h2m4 0h1m3 0h1m1 0h2m2 0h4m3 0h1m4 0h1m240 0h2m1 0h1m2 0h1m1 0h1m1 0h1m2 0h12m1 0h2m1 0h3m7 0h2M69 522.5h1m5 0h8m2 0h1m5 0h1m240 0h2m1 0h1m2 0h1m1 0h1m1 0h1m2 0h5m3 0h4m3 0h1m9 0h3M68 523.5h1m3 0h1m6 0h2m4 0h1m8 0h2m22 0h1m216 0h2m4 0h3m3 0h4m3 0h1m1 0h5m2 0h2m5 0h2M68 524.5h1m1 0h1m7 0h3m13 0h2m235 0h3m4 0h1m3 0h6m1 0h2m2 0h3m3 0h3m1 0h4m1 0h4M65 525.5h2m4 0h2m7 0h2m5 0h1m243 0h1m6 0h1m1 0h1m2 0h5m1 0h1m2 0h1m2 0h2m1 0h4m3 0h1m2 0h2M65 526.5h2m4 0h2m8 0h2m4 0h1m2 0h2m5 0h1m235 0h1m4 0h3m8 0h1m2 0h2m2 0h1m1 0h4m12 0h1M78 527.5h2m1 0h2m3 0h2m9 0h1m232 0h1m2 0h1m11 0h1m4 0h4m1 0h2m4 0h1m4 0h1m1 0h2M78 528.5h2m6 0h2m257 0h1m4 0h4m1 0h2m1 0h1m9 0h2m1 0h1M89 529.5h1m254 0h3m2 0h1m5 0h2m3 0h2m3 0h1m2 0h4M69 530.5h2m18 0h1m254 0h3m2 0h2m2 0h1m3 0h2m1 0h2M63 531.5h2m4 0h2m270 0h2m7 0h1m4 0h2M74 532.5h2m265 0h2m31 0h2M74 533.5h2" stroke="#111" stroke-width="1" fill="none" shape-rendering="crispEdges"/>
<text x="0.00" y="22.00" font-size="29.5" text-anchor="start" font-weight="bold">A</text>
<text x="274.20" y="22.00" font-size="29.5" text-anchor="start" font-weight="bold">B</text>
<text x="-0.60" y="320.40" font-size="29.5" text-anchor="start" font-weight="bold">C</text>
<text x="274.40" y="321.00" font-size="29.5" text-anchor="start" font-weight="bold">D</text>
<rect x="52.7" y="34.8" width="185.8" height="193.0" fill="none" stroke="#000" stroke-width="1.4"/>
<line x1="46.30" y1="227.00" x2="52.70" y2="227.00" stroke="#000" stroke-width="1.3"/>
<text x="35.46" y="231.30" font-size="12.3">0</text>
<line x1="53.30" y1="227.80" x2="53.30" y2="233.30" stroke="#000" stroke-width="1.3"/>
<text x="49.88" y="247.30" font-size="12.3">0</text>
<line x1="46.30" y1="189.38" x2="52.70" y2="189.38" stroke="#000" stroke-width="1.3"/>
<text x="21.78" y="193.68" font-size="12.3">2</text><text x="28.62" y="193.68" font-size="12.3">0</text><text x="35.46" y="193.68" font-size="12.3">0</text>
<line x1="89.60" y1="227.80" x2="89.60" y2="233.30" stroke="#000" stroke-width="1.3"/>
<text x="79.34" y="247.30" font-size="12.3">2</text><text x="86.18" y="247.30" font-size="12.3">0</text><text x="93.02" y="247.30" font-size="12.3">0</text>
<line x1="46.30" y1="151.76" x2="52.70" y2="151.76" stroke="#000" stroke-width="1.3"/>
<text x="21.78" y="156.06" font-size="12.3">4</text><text x="28.62" y="156.06" font-size="12.3">0</text><text x="35.46" y="156.06" font-size="12.3">0</text>
<line x1="124.90" y1="227.80" x2="124.90" y2="233.30" stroke="#000" stroke-width="1.3"/>
<text x="114.64" y="247.30" font-size="12.3">4</text><text x="121.48" y="247.30" font-size="12.3">0</text><text x="128.32" y="247.30" font-size="12.3">0</text>
<line x1="46.30" y1="114.14" x2="52.70" y2="114.14" stroke="#000" stroke-width="1.3"/>
<text x="21.78" y="118.44" font-size="12.3">6</text><text x="28.62" y="118.44" font-size="12.3">0</text><text x="35.46" y="118.44" font-size="12.3">0</text>
<line x1="160.40" y1="227.80" x2="160.40" y2="233.30" stroke="#000" stroke-width="1.3"/>
<text x="150.14" y="247.30" font-size="12.3">6</text><text x="156.98" y="247.30" font-size="12.3">0</text><text x="163.82" y="247.30" font-size="12.3">0</text>
<line x1="46.30" y1="76.52" x2="52.70" y2="76.52" stroke="#000" stroke-width="1.3"/>
<text x="21.78" y="80.82" font-size="12.3">8</text><text x="28.62" y="80.82" font-size="12.3">0</text><text x="35.46" y="80.82" font-size="12.3">0</text>
<line x1="196.00" y1="227.80" x2="196.00" y2="233.30" stroke="#000" stroke-width="1.3"/>
<text x="185.74" y="247.30" font-size="12.3">8</text><text x="192.58" y="247.30" font-size="12.3">0</text><text x="199.42" y="247.30" font-size="12.3">0</text>
<line x1="46.30" y1="38.90" x2="52.70" y2="38.90" stroke="#000" stroke-width="1.3"/>
<path d="M0.352,0 L0.262,0 L0.262,-0.535 L0.100,-0.535 L0.100,-0.600 C0.190,-0.605 0.250,-0.640 0.272,-0.716 L0.352,-0.716 Z" transform="translate(14.94,43.20) scale(12.3)" stroke="#000" stroke-width="0.0179"/><text x="21.78" y="43.20" font-size="12.3">0</text><text x="28.62" y="43.20" font-size="12.3">0</text><text x="35.46" y="43.20" font-size="12.3">0</text>
<line x1="232.90" y1="227.80" x2="232.90" y2="233.30" stroke="#000" stroke-width="1.3"/>
<path d="M0.352,0 L0.262,0 L0.262,-0.535 L0.100,-0.535 L0.100,-0.600 C0.190,-0.605 0.250,-0.640 0.272,-0.716 L0.352,-0.716 Z" transform="translate(219.22,247.30) scale(12.3)" stroke="#000" stroke-width="0.0179"/><text x="226.06" y="247.30" font-size="12.3">0</text><text x="232.90" y="247.30" font-size="12.3">0</text><text x="239.74" y="247.30" font-size="12.3">0</text>
<text x="144.00" y="266.80" font-size="15.6" text-anchor="middle">FSC-Height</text>
<text x="14.20" y="131.40" font-size="15.6" text-anchor="middle" transform="rotate(-90 14.20 131.40)">SSC-Height</text>
<rect x="323.6" y="35.4" width="184.79999999999995" height="198.0" fill="none" stroke="#000" stroke-width="1.4"/>
<line x1="317.60" y1="232.60" x2="323.60" y2="232.60" stroke="#000" stroke-width="1.3"/>
<g transform="translate(314.40,232.60) rotate(-90)"><path d="M0.352,0 L0.262,0 L0.262,-0.535 L0.100,-0.535 L0.100,-0.600 C0.190,-0.605 0.250,-0.640 0.272,-0.716 L0.352,-0.716 Z" transform="translate(-11.57,0.00) scale(14.5)" stroke="#000" stroke-width="0.0152"/><text x="-3.51" y="0.00" font-size="14.5">0</text><text x="5.20" y="-7.30" font-size="10.6">0</text></g>
<line x1="317.60" y1="183.60" x2="323.60" y2="183.60" stroke="#000" stroke-width="1.3"/>
<g transform="translate(314.40,183.60) rotate(-90)"><path d="M0.352,0 L0.262,0 L0.262,-0.535 L0.100,-0.535 L0.100,-0.600 C0.190,-0.605 0.250,-0.640 0.272,-0.716 L0.352,-0.716 Z" transform="translate(-11.57,0.00) scale(14.5)" stroke="#000" stroke-width="0.0152"/><text x="-3.51" y="0.00" font-size="14.5">0</text><path d="M0.352,0 L0.262,0 L0.262,-0.535 L0.100,-0.535 L0.100,-0.600 C0.190,-0.605 0.250,-0.640 0.272,-0.716 L0.352,-0.716 Z" transform="translate(5.20,-7.30) scale(10.6)" stroke="#000" stroke-width="0.0208"/></g>
<line x1="317.60" y1="135.30" x2="323.60" y2="135.30" stroke="#000" stroke-width="1.3"/>
<g transform="translate(314.40,135.30) rotate(-90)"><path d="M0.352,0 L0.262,0 L0.262,-0.535 L0.100,-0.535 L0.100,-0.600 C0.190,-0.605 0.250,-0.640 0.272,-0.716 L0.352,-0.716 Z" transform="translate(-11.57,0.00) scale(14.5)" stroke="#000" stroke-width="0.0152"/><text x="-3.51" y="0.00" font-size="14.5">0</text><text x="5.20" y="-7.30" font-size="10.6">2</text></g>
<line x1="317.60" y1="85.30" x2="323.60" y2="85.30" stroke="#000" stroke-width="1.3"/>
<g transform="translate(314.40,85.30) rotate(-90)"><path d="M0.352,0 L0.262,0 L0.262,-0.535 L0.100,-0.535 L0.100,-0.600 C0.190,-0.605 0.250,-0.640 0.272,-0.716 L0.352,-0.716 Z" transform="translate(-11.57,0.00) scale(14.5)" stroke="#000" stroke-width="0.0152"/><text x="-3.51" y="0.00" font-size="14.5">0</text><text x="5.20" y="-7.30" font-size="10.6">3</text></g>
<line x1="317.60" y1="35.50" x2="323.60" y2="35.50" stroke="#000" stroke-width="1.3"/>
<g transform="translate(314.40,35.50) rotate(-90)"><path d="M0.352,0 L0.262,0 L0.262,-0.535 L0.100,-0.535 L0.100,-0.600 C0.190,-0.605 0.250,-0.640 0.272,-0.716 L0.352,-0.716 Z" transform="translate(-12.97,0.00) scale(14.5)" stroke="#000" stroke-width="0.0152"/><text x="-4.91" y="0.00" font-size="14.5">0</text><text x="3.80" y="-7.30" font-size="10.6">4</text></g>
<line x1="323.40" y1="233.40" x2="323.40" y2="239.00" stroke="#000" stroke-width="1.3"/>
<path d="M0.352,0 L0.262,0 L0.262,-0.535 L0.100,-0.535 L0.100,-0.600 C0.190,-0.605 0.250,-0.640 0.272,-0.716 L0.352,-0.716 Z" transform="translate(311.00,256.60) scale(14.5)" stroke="#000" stroke-width="0.0152"/><text x="319.06" y="256.60" font-size="14.5">0</text><text x="327.80" y="249.30" font-size="10.6">0</text>
<line x1="369.55" y1="233.40" x2="369.55" y2="239.00" stroke="#000" stroke-width="1.3"/>
<path d="M0.352,0 L0.262,0 L0.262,-0.535 L0.100,-0.535 L0.100,-0.600 C0.190,-0.605 0.250,-0.640 0.272,-0.716 L0.352,-0.716 Z" transform="translate(357.15,256.60) scale(14.5)" stroke="#000" stroke-width="0.0152"/><text x="365.21" y="256.60" font-size="14.5">0</text><path d="M0.352,0 L0.262,0 L0.262,-0.535 L0.100,-0.535 L0.100,-0.600 C0.190,-0.605 0.250,-0.640 0.272,-0.716 L0.352,-0.716 Z" transform="translate(373.95,249.30) scale(10.6)" stroke="#000" stroke-width="0.0208"/>
<line x1="415.70" y1="233.40" x2="415.70" y2="239.00" stroke="#000" stroke-width="1.3"/>
<path d="M0.352,0 L0.262,0 L0.262,-0.535 L0.100,-0.535 L0.100,-0.600 C0.190,-0.605 0.250,-0.640 0.272,-0.716 L0.352,-0.716 Z" transform="translate(403.30,256.60) scale(14.5)" stroke="#000" stroke-width="0.0152"/><text x="411.36" y="256.60" font-size="14.5">0</text><text x="420.10" y="249.30" font-size="10.6">2</text>
<line x1="461.85" y1="233.40" x2="461.85" y2="239.00" stroke="#000" stroke-width="1.3"/>
<path d="M0.352,0 L0.262,0 L0.262,-0.535 L0.100,-0.535 L0.100,-0.600 C0.190,-0.605 0.250,-0.640 0.272,-0.716 L0.352,-0.716 Z" transform="translate(449.45,256.60) scale(14.5)" stroke="#000" stroke-width="0.0152"/><text x="457.51" y="256.60" font-size="14.5">0</text><text x="466.25" y="249.30" font-size="10.6">3</text>
<line x1="508.00" y1="233.40" x2="508.00" y2="239.00" stroke="#000" stroke-width="1.3"/>
<path d="M0.352,0 L0.262,0 L0.262,-0.535 L0.100,-0.535 L0.100,-0.600 C0.190,-0.605 0.250,-0.640 0.272,-0.716 L0.352,-0.716 Z" transform="translate(495.60,256.60) scale(14.5)" stroke="#000" stroke-width="0.0152"/><text x="503.66" y="256.60" font-size="14.5">0</text><text x="512.40" y="249.30" font-size="10.6">4</text>
<text x="417.10" y="276.70" font-size="15.5" text-anchor="middle">CD8 PerCP</text>
<text x="291.30" y="134.40" font-size="15.9" text-anchor="middle" transform="rotate(-90 291.30 134.40)">CD3 APC</text>
<rect x="53.9" y="335.9" width="186.5" height="198.10000000000002" fill="none" stroke="#000" stroke-width="1.4"/>
<line x1="47.90" y1="533.60" x2="53.90" y2="533.60" stroke="#000" stroke-width="1.3"/>
<g transform="translate(44.70,533.60) rotate(-90)"><path d="M0.352,0 L0.262,0 L0.262,-0.535 L0.100,-0.535 L0.100,-0.600 C0.190,-0.605 0.250,-0.640 0.272,-0.716 L0.352,-0.716 Z" transform="translate(-11.57,0.00) scale(14.5)" stroke="#000" stroke-width="0.0152"/><text x="-3.51" y="0.00" font-size="14.5">0</text><text x="5.20" y="-7.30" font-size="10.6">0</text></g>
<line x1="47.90" y1="484.40" x2="53.90" y2="484.40" stroke="#000" stroke-width="1.3"/>
<g transform="translate(44.70,484.40) rotate(-90)"><path d="M0.352,0 L0.262,0 L0.262,-0.535 L0.100,-0.535 L0.100,-0.600 C0.190,-0.605 0.250,-0.640 0.272,-0.716 L0.352,-0.716 Z" transform="translate(-11.57,0.00) scale(14.5)" stroke="#000" stroke-width="0.0152"/><text x="-3.51" y="0.00" font-size="14.5">0</text><path d="M0.352,0 L0.262,0 L0.262,-0.535 L0.100,-0.535 L0.100,-0.600 C0.190,-0.605 0.250,-0.640 0.272,-0.716 L0.352,-0.716 Z" transform="translate(5.20,-7.30) scale(10.6)" stroke="#000" stroke-width="0.0208"/></g>
<line x1="47.90" y1="435.90" x2="53.90" y2="435.90" stroke="#000" stroke-width="1.3"/>
<g transform="translate(44.70,435.90) rotate(-90)"><path d="M0.352,0 L0.262,0 L0.262,-0.535 L0.100,-0.535 L0.100,-0.600 C0.190,-0.605 0.250,-0.640 0.272,-0.716 L0.352,-0.716 Z" transform="translate(-11.57,0.00) scale(14.5)" stroke="#000" stroke-width="0.0152"/><text x="-3.51" y="0.00" font-size="14.5">0</text><text x="5.20" y="-7.30" font-size="10.6">2</text></g>
<line x1="47.90" y1="386.20" x2="53.90" y2="386.20" stroke="#000" stroke-width="1.3"/>
<g transform="translate(44.70,386.20) rotate(-90)"><path d="M0.352,0 L0.262,0 L0.262,-0.535 L0.100,-0.535 L0.100,-0.600 C0.190,-0.605 0.250,-0.640 0.272,-0.716 L0.352,-0.716 Z" transform="translate(-11.57,0.00) scale(14.5)" stroke="#000" stroke-width="0.0152"/><text x="-3.51" y="0.00" font-size="14.5">0</text><text x="5.20" y="-7.30" font-size="10.6">3</text></g>
<line x1="47.90" y1="336.30" x2="53.90" y2="336.30" stroke="#000" stroke-width="1.3"/>
<g transform="translate(44.70,336.30) rotate(-90)"><path d="M0.352,0 L0.262,0 L0.262,-0.535 L0.100,-0.535 L0.100,-0.600 C0.190,-0.605 0.250,-0.640 0.272,-0.716 L0.352,-0.716 Z" transform="translate(-12.97,0.00) scale(14.5)" stroke="#000" stroke-width="0.0152"/><text x="-4.91" y="0.00" font-size="14.5">0</text><text x="3.80" y="-7.30" font-size="10.6">4</text></g>
<line x1="53.80" y1="534.00" x2="53.80" y2="539.60" stroke="#000" stroke-width="1.3"/>
<path d="M0.352,0 L0.262,0 L0.262,-0.535 L0.100,-0.535 L0.100,-0.600 C0.190,-0.605 0.250,-0.640 0.272,-0.716 L0.352,-0.716 Z" transform="translate(41.40,557.20) scale(14.5)" stroke="#000" stroke-width="0.0152"/><text x="49.46" y="557.20" font-size="14.5">0</text><text x="58.20" y="549.90" font-size="10.6">0</text>
<line x1="67.75" y1="534.00" x2="67.75" y2="537.40" stroke="#000" stroke-width="1.2"/>
<line x1="75.91" y1="534.00" x2="75.91" y2="537.40" stroke="#000" stroke-width="1.2"/>
<line x1="81.69" y1="534.00" x2="81.69" y2="537.40" stroke="#000" stroke-width="1.2"/>
<line x1="86.18" y1="534.00" x2="86.18" y2="537.40" stroke="#000" stroke-width="1.2"/>
<line x1="89.85" y1="534.00" x2="89.85" y2="537.40" stroke="#000" stroke-width="1.2"/>
<line x1="92.95" y1="534.00" x2="92.95" y2="537.40" stroke="#000" stroke-width="1.2"/>
<line x1="95.64" y1="534.00" x2="95.64" y2="537.40" stroke="#000" stroke-width="1.2"/>
<line x1="98.01" y1="534.00" x2="98.01" y2="537.40" stroke="#000" stroke-width="1.2"/>
<line x1="100.13" y1="534.00" x2="100.13" y2="539.60" stroke="#000" stroke-width="1.3"/>
<path d="M0.352,0 L0.262,0 L0.262,-0.535 L0.100,-0.535 L0.100,-0.600 C0.190,-0.605 0.250,-0.640 0.272,-0.716 L0.352,-0.716 Z" transform="translate(87.73,557.20) scale(14.5)" stroke="#000" stroke-width="0.0152"/><text x="95.79" y="557.20" font-size="14.5">0</text><path d="M0.352,0 L0.262,0 L0.262,-0.535 L0.100,-0.535 L0.100,-0.600 C0.190,-0.605 0.250,-0.640 0.272,-0.716 L0.352,-0.716 Z" transform="translate(104.53,549.90) scale(10.6)" stroke="#000" stroke-width="0.0208"/>
<line x1="114.08" y1="534.00" x2="114.08" y2="537.40" stroke="#000" stroke-width="1.2"/>
<line x1="122.24" y1="534.00" x2="122.24" y2="537.40" stroke="#000" stroke-width="1.2"/>
<line x1="128.02" y1="534.00" x2="128.02" y2="537.40" stroke="#000" stroke-width="1.2"/>
<line x1="132.51" y1="534.00" x2="132.51" y2="537.40" stroke="#000" stroke-width="1.2"/>
<line x1="136.18" y1="534.00" x2="136.18" y2="537.40" stroke="#000" stroke-width="1.2"/>
<line x1="139.28" y1="534.00" x2="139.28" y2="537.40" stroke="#000" stroke-width="1.2"/>
<line x1="141.97" y1="534.00" x2="141.97" y2="537.40" stroke="#000" stroke-width="1.2"/>
<line x1="144.34" y1="534.00" x2="144.34" y2="537.40" stroke="#000" stroke-width="1.2"/>
<line x1="146.46" y1="534.00" x2="146.46" y2="539.60" stroke="#000" stroke-width="1.3"/>
<path d="M0.352,0 L0.262,0 L0.262,-0.535 L0.100,-0.535 L0.100,-0.600 C0.190,-0.605 0.250,-0.640 0.272,-0.716 L0.352,-0.716 Z" transform="translate(134.06,557.20) scale(14.5)" stroke="#000" stroke-width="0.0152"/><text x="142.12" y="557.20" font-size="14.5">0</text><text x="150.86" y="549.90" font-size="10.6">2</text>
<line x1="160.41" y1="534.00" x2="160.41" y2="537.40" stroke="#000" stroke-width="1.2"/>
<line x1="168.57" y1="534.00" x2="168.57" y2="537.40" stroke="#000" stroke-width="1.2"/>
<line x1="174.35" y1="534.00" x2="174.35" y2="537.40" stroke="#000" stroke-width="1.2"/>
<line x1="178.84" y1="534.00" x2="178.84" y2="537.40" stroke="#000" stroke-width="1.2"/>
<line x1="182.51" y1="534.00" x2="182.51" y2="537.40" stroke="#000" stroke-width="1.2"/>
<line x1="185.61" y1="534.00" x2="185.61" y2="537.40" stroke="#000" stroke-width="1.2"/>
<line x1="188.30" y1="534.00" x2="188.30" y2="537.40" stroke="#000" stroke-width="1.2"/>
<line x1="190.67" y1="534.00" x2="190.67" y2="537.40" stroke="#000" stroke-width="1.2"/>
<line x1="192.79" y1="534.00" x2="192.79" y2="539.60" stroke="#000" stroke-width="1.3"/>
<path d="M0.352,0 L0.262,0 L0.262,-0.535 L0.100,-0.535 L0.100,-0.600 C0.190,-0.605 0.250,-0.640 0.272,-0.716 L0.352,-0.716 Z" transform="translate(180.39,557.20) scale(14.5)" stroke="#000" stroke-width="0.0152"/><text x="188.45" y="557.20" font-size="14.5">0</text><text x="197.19" y="549.90" font-size="10.6">3</text>
<line x1="206.74" y1="534.00" x2="206.74" y2="537.40" stroke="#000" stroke-width="1.2"/>
<line x1="214.90" y1="534.00" x2="214.90" y2="537.40" stroke="#000" stroke-width="1.2"/>
<line x1="220.68" y1="534.00" x2="220.68" y2="537.40" stroke="#000" stroke-width="1.2"/>
<line x1="225.17" y1="534.00" x2="225.17" y2="537.40" stroke="#000" stroke-width="1.2"/>
<line x1="228.84" y1="534.00" x2="228.84" y2="537.40" stroke="#000" stroke-width="1.2"/>
<line x1="231.94" y1="534.00" x2="231.94" y2="537.40" stroke="#000" stroke-width="1.2"/>
<line x1="234.63" y1="534.00" x2="234.63" y2="537.40" stroke="#000" stroke-width="1.2"/>
<line x1="237.00" y1="534.00" x2="237.00" y2="537.40" stroke="#000" stroke-width="1.2"/>
<line x1="239.12" y1="534.00" x2="239.12" y2="539.60" stroke="#000" stroke-width="1.3"/>
<path d="M0.352,0 L0.262,0 L0.262,-0.535 L0.100,-0.535 L0.100,-0.600 C0.190,-0.605 0.250,-0.640 0.272,-0.716 L0.352,-0.716 Z" transform="translate(226.72,557.20) scale(14.5)" stroke="#000" stroke-width="0.0152"/><text x="234.78" y="557.20" font-size="14.5">0</text><text x="243.52" y="549.90" font-size="10.6">4</text>
<text x="149.00" y="577.10" font-size="15.4" text-anchor="middle">IFN-γ FITC</text>
<text x="21.40" y="434.90" font-size="15.8" text-anchor="middle" transform="rotate(-90 21.40 434.90)">CD69 PE</text>
<text x="228.80" y="357.00" font-size="16" text-anchor="end">0.02%</text>
<rect x="323.2" y="337.0" width="185.40000000000003" height="198.20000000000005" fill="none" stroke="#000" stroke-width="1.4"/>
<line x1="317.20" y1="534.40" x2="323.20" y2="534.40" stroke="#000" stroke-width="1.3"/>
<g transform="translate(314.00,534.40) rotate(-90)"><path d="M0.352,0 L0.262,0 L0.262,-0.535 L0.100,-0.535 L0.100,-0.600 C0.190,-0.605 0.250,-0.640 0.272,-0.716 L0.352,-0.716 Z" transform="translate(-11.57,0.00) scale(14.5)" stroke="#000" stroke-width="0.0152"/><text x="-3.51" y="0.00" font-size="14.5">0</text><text x="5.20" y="-7.30" font-size="10.6">0</text></g>
<line x1="317.20" y1="485.50" x2="323.20" y2="485.50" stroke="#000" stroke-width="1.3"/>
<g transform="translate(314.00,485.50) rotate(-90)"><path d="M0.352,0 L0.262,0 L0.262,-0.535 L0.100,-0.535 L0.100,-0.600 C0.190,-0.605 0.250,-0.640 0.272,-0.716 L0.352,-0.716 Z" transform="translate(-11.57,0.00) scale(14.5)" stroke="#000" stroke-width="0.0152"/><text x="-3.51" y="0.00" font-size="14.5">0</text><path d="M0.352,0 L0.262,0 L0.262,-0.535 L0.100,-0.535 L0.100,-0.600 C0.190,-0.605 0.250,-0.640 0.272,-0.716 L0.352,-0.716 Z" transform="translate(5.20,-7.30) scale(10.6)" stroke="#000" stroke-width="0.0208"/></g>
<line x1="317.20" y1="437.00" x2="323.20" y2="437.00" stroke="#000" stroke-width="1.3"/>
<g transform="translate(314.00,437.00) rotate(-90)"><path d="M0.352,0 L0.262,0 L0.262,-0.535 L0.100,-0.535 L0.100,-0.600 C0.190,-0.605 0.250,-0.640 0.272,-0.716 L0.352,-0.716 Z" transform="translate(-11.57,0.00) scale(14.5)" stroke="#000" stroke-width="0.0152"/><text x="-3.51" y="0.00" font-size="14.5">0</text><text x="5.20" y="-7.30" font-size="10.6">2</text></g>
<line x1="317.20" y1="387.00" x2="323.20" y2="387.00" stroke="#000" stroke-width="1.3"/>
<g transform="translate(314.00,387.00) rotate(-90)"><path d="M0.352,0 L0.262,0 L0.262,-0.535 L0.100,-0.535 L0.100,-0.600 C0.190,-0.605 0.250,-0.640 0.272,-0.716 L0.352,-0.716 Z" transform="translate(-11.57,0.00) scale(14.5)" stroke="#000" stroke-width="0.0152"/><text x="-3.51" y="0.00" font-size="14.5">0</text><text x="5.20" y="-7.30" font-size="10.6">3</text></g>
<line x1="317.20" y1="337.20" x2="323.20" y2="337.20" stroke="#000" stroke-width="1.3"/>
<g transform="translate(314.00,337.20) rotate(-90)"><path d="M0.352,0 L0.262,0 L0.262,-0.535 L0.100,-0.535 L0.100,-0.600 C0.190,-0.605 0.250,-0.640 0.272,-0.716 L0.352,-0.716 Z" transform="translate(-12.97,0.00) scale(14.5)" stroke="#000" stroke-width="0.0152"/><text x="-4.91" y="0.00" font-size="14.5">0</text><text x="3.80" y="-7.30" font-size="10.6">4</text></g>
<line x1="323.20" y1="535.20" x2="323.20" y2="540.80" stroke="#000" stroke-width="1.3"/>
<path d="M0.352,0 L0.262,0 L0.262,-0.535 L0.100,-0.535 L0.100,-0.600 C0.190,-0.605 0.250,-0.640 0.272,-0.716 L0.352,-0.716 Z" transform="translate(310.80,558.40) scale(14.5)" stroke="#000" stroke-width="0.0152"/><text x="318.86" y="558.40" font-size="14.5">0</text><text x="327.60" y="551.10" font-size="10.6">0</text>
<line x1="369.40" y1="535.20" x2="369.40" y2="540.80" stroke="#000" stroke-width="1.3"/>
<path d="M0.352,0 L0.262,0 L0.262,-0.535 L0.100,-0.535 L0.100,-0.600 C0.190,-0.605 0.250,-0.640 0.272,-0.716 L0.352,-0.716 Z" transform="translate(357.00,558.40) scale(14.5)" stroke="#000" stroke-width="0.0152"/><text x="365.06" y="558.40" font-size="14.5">0</text><path d="M0.352,0 L0.262,0 L0.262,-0.535 L0.100,-0.535 L0.100,-0.600 C0.190,-0.605 0.250,-0.640 0.272,-0.716 L0.352,-0.716 Z" transform="translate(373.80,551.10) scale(10.6)" stroke="#000" stroke-width="0.0208"/>
<line x1="415.60" y1="535.20" x2="415.60" y2="540.80" stroke="#000" stroke-width="1.3"/>
<path d="M0.352,0 L0.262,0 L0.262,-0.535 L0.100,-0.535 L0.100,-0.600 C0.190,-0.605 0.250,-0.640 0.272,-0.716 L0.352,-0.716 Z" transform="translate(403.20,558.40) scale(14.5)" stroke="#000" stroke-width="0.0152"/><text x="411.26" y="558.40" font-size="14.5">0</text><text x="420.00" y="551.10" font-size="10.6">2</text>
<line x1="461.80" y1="535.20" x2="461.80" y2="540.80" stroke="#000" stroke-width="1.3"/>
<path d="M0.352,0 L0.262,0 L0.262,-0.535 L0.100,-0.535 L0.100,-0.600 C0.190,-0.605 0.250,-0.640 0.272,-0.716 L0.352,-0.716 Z" transform="translate(449.40,558.40) scale(14.5)" stroke="#000" stroke-width="0.0152"/><text x="457.46" y="558.40" font-size="14.5">0</text><text x="466.20" y="551.10" font-size="10.6">3</text>
<line x1="508.00" y1="535.20" x2="508.00" y2="540.80" stroke="#000" stroke-width="1.3"/>
<path d="M0.352,0 L0.262,0 L0.262,-0.535 L0.100,-0.535 L0.100,-0.600 C0.190,-0.605 0.250,-0.640 0.272,-0.716 L0.352,-0.716 Z" transform="translate(495.60,558.40) scale(14.5)" stroke="#000" stroke-width="0.0152"/><text x="503.66" y="558.40" font-size="14.5">0</text><text x="512.40" y="551.10" font-size="10.6">4</text>
<text x="417.60" y="578.30" font-size="15.4" text-anchor="middle">IFN-γ FITC</text>
<text x="290.90" y="435.10" font-size="15.8" text-anchor="middle" transform="rotate(-90 290.90 435.10)">CD69 PE</text>
<text x="497.90" y="357.50" font-size="16" text-anchor="end">2.92%</text>
<path d="M98.2,217.5 C100,211 108,203 122,195.5 L168.5,172.3 L232.4,117.8 L232.4,208.3 L113,224.2 C104,224.8 98.5,222 98.2,217.5 Z" fill="none" stroke="#000" stroke-width="2.7" stroke-linejoin="round"/>
<path d="M323.6,151.6 L465.2,151.6 L465.2,35.4" fill="none" stroke="#000" stroke-width="2.4"/>
<path d="M424.8,35.4 L385.4,76.6 L381.3,85 L377,95 L373.2,105.3 L368.5,115.6 L364.9,125.9 L362.4,136.2 L360.6,146.5 L360.2,151.6" fill="none" stroke="#000" stroke-width="2.7" stroke-linejoin="round"/>
<line x1="116.10" y1="337.40" x2="116.10" y2="533.00" stroke="#000" stroke-width="1.9"/>
<line x1="53.90" y1="467.70" x2="237.60" y2="467.70" stroke="#000" stroke-width="1.9"/>
<line x1="386.90" y1="338.60" x2="386.90" y2="534.60" stroke="#000" stroke-width="1.9"/>
<line x1="323.20" y1="470.50" x2="508.60" y2="470.50" stroke="#000" stroke-width="1.9"/>
</svg></body></html>
